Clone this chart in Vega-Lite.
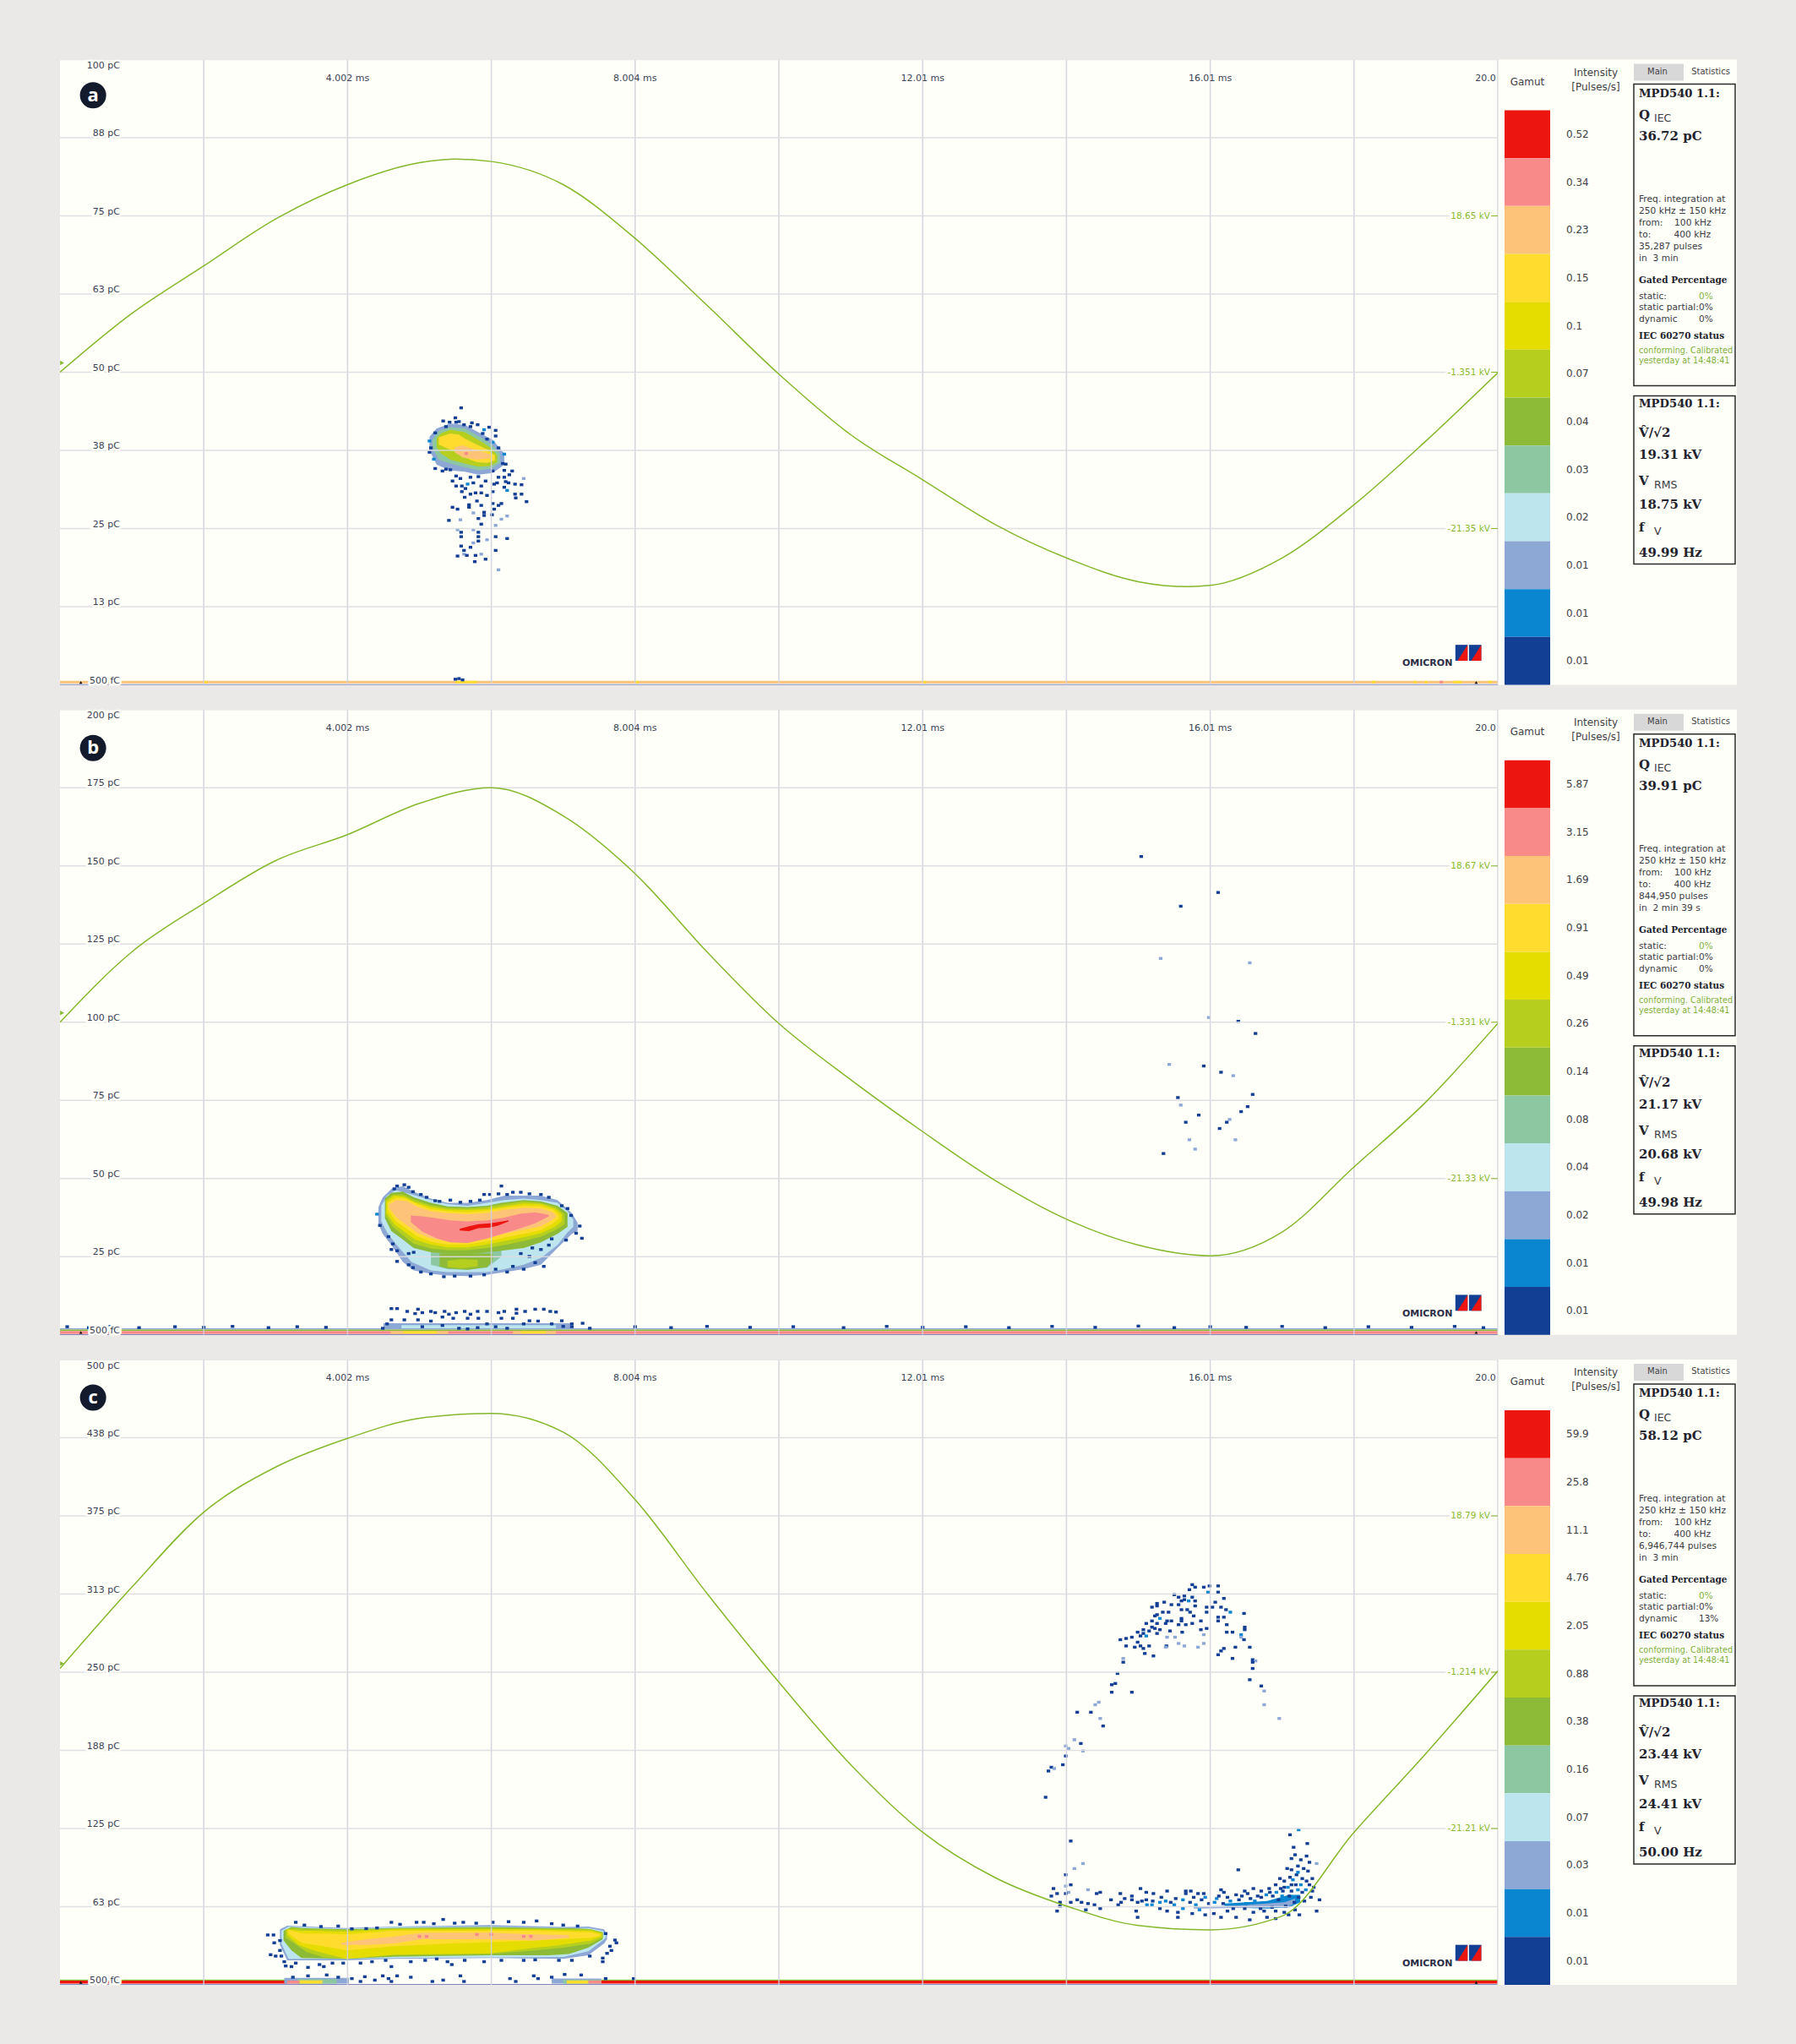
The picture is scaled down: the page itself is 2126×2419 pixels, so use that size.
{
"$schema":"https://vega.github.io/schema/vega-lite/v6.json",
"background":"#ebe8e8",
"padding":{"left":71,"top":70.5,"right":71,"bottom":70},
"config":{"view":{"fill":"#fffffa","stroke":null},"axis":{"disable":true},"legend":{"disable":true},"text":{"font":"DejaVu Sans"}},
"datasets":{
"plot":[
{"p":"a","s":10,"t":0,"t2":20,"q":0.25,"q2":0.65},{"p":"a","s":9,"t":2,"t2":2.05,"q":0.25,"q2":0.65},{"p":"a","s":9,"t":5.5,"t2":5.8,"q":0.25,"q2":0.65},{"p":"a","s":9,"t":8,"t2":8.05,"q":0.25,"q2":0.65},{"p":"a","s":9,"t":12,"t2":12.05,"q":0.25,"q2":0.65},{"p":"a","s":9,"t":18.25,"t2":18.3,"q":0.25,"q2":0.65},{"p":"a","s":9,"t":18.83,"t2":18.87,"q":0.25,"q2":0.65},{"p":"a","s":9,"t":18.98,"t2":19.02,"q":0.25,"q2":0.65},{"p":"a","s":11,"t":19.19,"t2":19.24,"q":0.25,"q2":0.65},{"p":"a","s":9,"t":19.38,"t2":19.5,"q":0.25,"q2":0.65},{"p":"a","s":9,"t":19.87,"t2":19.92,"q":0.25,"q2":0.65},
{"p":"b","s":3,"t":0,"t2":20,"q":1.7,"q2":2.1},{"p":"b","s":6,"t":0,"t2":20,"q":1.2,"q2":1.7},{"p":"b","s":11,"t":0,"t2":20,"q":0.3,"q2":1.2},{"p":"b","s":10,"t":4.6,"t2":5.4,"q":0.3,"q2":1.2},{"p":"b","s":9,"t":4.77,"t2":5.24,"q":0.5,"q2":1.2},{"p":"b","s":10,"t":6.3,"t2":6.9,"q":0.3,"q2":1.2},{"p":"b","s":9,"t":6.41,"t2":6.76,"q":0.5,"q2":1.2},{"p":"b","s":3,"t":4.5,"t2":7.1,"q":2.1,"q2":3.7},{"p":"b","s":4,"t":4.75,"t2":6.9,"q":2.1,"q2":3.1},
{"p":"c","s":6,"t":0,"t2":3.16,"q":3.4,"q2":4.3},{"p":"c","s":12,"t":0,"t2":3.16,"q":1,"q2":3.4},{"p":"c","s":6,"t":7.53,"t2":20,"q":3.4,"q2":4.3},{"p":"c","s":12,"t":7.53,"t2":20,"q":1,"q2":3.4},{"p":"c","s":3,"t":3.12,"t2":4.02,"q":1,"q2":5.5},{"p":"c","s":5,"t":3.3,"t2":3.85,"q":1,"q2":4.5},{"p":"c","s":9,"t":3.33,"t2":3.65,"q":1,"q2":3.6},{"p":"c","s":11,"t":3.16,"t2":3.33,"q":1,"q2":3.4},{"p":"c","s":3,"t":6.84,"t2":7.53,"q":1,"q2":5},{"p":"c","s":5,"t":7,"t2":7.53,"q":1,"q2":4.3},{"p":"c","s":9,"t":7.05,"t2":7.35,"q":1,"q2":3.5},{"p":"c","s":11,"t":7.35,"t2":7.53,"q":1,"q2":3.5},
{"p":"a","s":1,"t":19.41,"t2":19.58,"q":3.85,"q2":6.4},{"p":"a","s":1,"t":19.6,"t2":19.77,"q":3.85,"q2":6.4},{"p":"b","s":1,"t":19.41,"t2":19.58,"q":7.7,"q2":12.8},{"p":"b","s":1,"t":19.6,"t2":19.77,"q":7.7,"q2":12.8},{"p":"c","s":1,"t":19.41,"t2":19.58,"q":19.25,"q2":32},{"p":"c","s":1,"t":19.6,"t2":19.77,"q":19.25,"q2":32},
{"p":"a","a":"al1","b":12,"t":19.44,"q":3.85,"q2":3.85},{"p":"a","a":"al1","b":12,"t":19.58,"q":6.4,"q2":3.85},{"p":"a","a":"al2","b":12,"t":19.63,"q":3.85,"q2":3.85},{"p":"a","a":"al2","b":12,"t":19.77,"q":6.4,"q2":3.85},
{"p":"b","a":"bl1","b":12,"t":19.44,"q":7.7,"q2":7.7},{"p":"b","a":"bl1","b":12,"t":19.58,"q":12.8,"q2":7.7},{"p":"b","a":"bl2","b":12,"t":19.63,"q":7.7,"q2":7.7},{"p":"b","a":"bl2","b":12,"t":19.77,"q":12.8,"q2":7.7},
{"p":"c","a":"cl1","b":12,"t":19.44,"q":19.25,"q2":19.25},{"p":"c","a":"cl1","b":12,"t":19.58,"q":32,"q2":19.25},{"p":"c","a":"cl2","b":12,"t":19.63,"q":19.25,"q2":19.25},{"p":"c","a":"cl2","b":12,"t":19.77,"q":32,"q2":19.25},
{"p":"a","a":"a3","b":3,"t":5.14,"q":39.7,"q2":37.5},{"p":"a","a":"a3","b":3,"t":5.24,"q":41,"q2":35.2},{"p":"a","a":"a3","b":3,"t":5.43,"q":41.8,"q2":34.3},{"p":"a","a":"a3","b":3,"t":5.63,"q":41.6,"q2":34.1},{"p":"a","a":"a3","b":3,"t":5.82,"q":40.4,"q2":33.6},{"p":"a","a":"a3","b":3,"t":6.02,"q":39.2,"q2":33.9},{"p":"a","a":"a3","b":3,"t":6.18,"q":37,"q2":35.2},
{"p":"a","a":"a5","b":5,"t":5.18,"q":39.2,"q2":37.9},{"p":"a","a":"a5","b":5,"t":5.27,"q":40.6,"q2":36},{"p":"a","a":"a5","b":5,"t":5.43,"q":41.2,"q2":35.4},{"p":"a","a":"a5","b":5,"t":5.63,"q":41,"q2":34.8},{"p":"a","a":"a5","b":5,"t":5.82,"q":39.8,"q2":34.3},{"p":"a","a":"a5","b":5,"t":6,"q":38.5,"q2":34.6},{"p":"a","a":"a5","b":5,"t":6.12,"q":37,"q2":35.5},
{"p":"a","a":"a7","b":7,"t":5.24,"q":39.5,"q2":38},{"p":"a","a":"a7","b":7,"t":5.3,"q":40.2,"q2":37},{"p":"a","a":"a7","b":7,"t":5.43,"q":40.8,"q2":36},{"p":"a","a":"a7","b":7,"t":5.63,"q":40.4,"q2":35.4},{"p":"a","a":"a7","b":7,"t":5.82,"q":39.2,"q2":34.9},{"p":"a","a":"a7","b":7,"t":5.98,"q":38,"q2":35},{"p":"a","a":"a7","b":7,"t":6.08,"q":36.8,"q2":35.6},
{"p":"a","a":"a9","b":9,"t":5.27,"q":39.6,"q2":38.4},{"p":"a","a":"a9","b":9,"t":5.43,"q":40.2,"q2":37.6},{"p":"a","a":"a9","b":9,"t":5.55,"q":40,"q2":37.1},{"p":"a","a":"a9","b":9,"t":5.63,"q":39.4,"q2":36.4},{"p":"a","a":"a9","b":9,"t":5.8,"q":38.4,"q2":35.6},{"p":"a","a":"a9","b":9,"t":5.95,"q":37.6,"q2":35.5},{"p":"a","a":"a9","b":9,"t":6.05,"q":36.7,"q2":35.9},
{"p":"a","a":"a10","b":10,"t":5.49,"q":38,"q2":37.2},{"p":"a","a":"a10","b":10,"t":5.6,"q":38.3,"q2":36.4},{"p":"a","a":"a10","b":10,"t":5.8,"q":37.5,"q2":36},{"p":"a","a":"a10","b":10,"t":5.98,"q":36.9,"q2":36.2},
{"p":"b","a":"b3","b":3,"t":4.43,"q":40.9,"q2":35.4},{"p":"b","a":"b3","b":3,"t":4.49,"q":44,"q2":32.3},{"p":"b","a":"b3","b":3,"t":4.61,"q":46.7,"q2":28.7},{"p":"b","a":"b3","b":3,"t":4.77,"q":47.6,"q2":23.3},{"p":"b","a":"b3","b":3,"t":4.92,"q":45.8,"q2":20.6},{"p":"b","a":"b3","b":3,"t":5.16,"q":43.6,"q2":19.5},{"p":"b","a":"b3","b":3,"t":5.39,"q":42.2,"q2":19},{"p":"b","a":"b3","b":3,"t":5.67,"q":42.2,"q2":18.8},{"p":"b","a":"b3","b":3,"t":5.94,"q":43.1,"q2":19.2},{"p":"b","a":"b3","b":3,"t":6.18,"q":44.5,"q2":20.1},{"p":"b","a":"b3","b":3,"t":6.45,"q":44.5,"q2":21},{"p":"b","a":"b3","b":3,"t":6.69,"q":44.5,"q2":22.4},{"p":"b","a":"b3","b":3,"t":6.92,"q":43.1,"q2":27.8},{"p":"b","a":"b3","b":3,"t":7.12,"q":39,"q2":32.3},{"p":"b","a":"b3","b":3,"t":7.2,"q":35.9,"q2":33.2},
{"p":"b","a":"b4","b":4,"t":4.47,"q":41.3,"q2":36.3},{"p":"b","a":"b4","b":4,"t":4.55,"q":44.5,"q2":32.8},{"p":"b","a":"b4","b":4,"t":4.67,"q":46.3,"q2":29.1},{"p":"b","a":"b4","b":4,"t":4.89,"q":44.9,"q2":23.3},{"p":"b","a":"b4","b":4,"t":5.16,"q":43.1,"q2":20.6},{"p":"b","a":"b4","b":4,"t":5.39,"q":41.8,"q2":20.1},{"p":"b","a":"b4","b":4,"t":5.67,"q":41.3,"q2":20.1},{"p":"b","a":"b4","b":4,"t":5.94,"q":42.2,"q2":20.1},{"p":"b","a":"b4","b":4,"t":6.18,"q":43.1,"q2":21},{"p":"b","a":"b4","b":4,"t":6.45,"q":43.6,"q2":22.4},{"p":"b","a":"b4","b":4,"t":6.69,"q":43.1,"q2":24.6},{"p":"b","a":"b4","b":4,"t":6.92,"q":42.2,"q2":28.7},{"p":"b","a":"b4","b":4,"t":7.06,"q":39.5,"q2":32.8},{"p":"b","a":"b4","b":4,"t":7.14,"q":36.8,"q2":34.5},
{"p":"b","a":"bl5","b":5,"t":5.16,"q":26.9,"q2":22.4},{"p":"b","a":"bl5","b":5,"t":5.39,"q":26.9,"q2":21},{"p":"b","a":"bl5","b":5,"t":5.67,"q":26.9,"q2":20.8},{"p":"b","a":"bl5","b":5,"t":5.94,"q":26.9,"q2":21.5},{"p":"b","a":"bl5","b":5,"t":6.14,"q":27.8,"q2":25},
{"p":"b","a":"bl6","b":6,"t":5.28,"q":26,"q2":21.9},{"p":"b","a":"bl6","b":6,"t":5.39,"q":26,"q2":21.3},{"p":"b","a":"bl6","b":6,"t":5.67,"q":26,"q2":20.8},{"p":"b","a":"bl6","b":6,"t":5.94,"q":26,"q2":21.7},{"p":"b","a":"bl6","b":6,"t":6.02,"q":26,"q2":23.7},
{"p":"b","a":"bl7","b":7,"t":5.39,"q":23.7,"q2":21.7},{"p":"b","a":"bl7","b":7,"t":5.59,"q":24.2,"q2":21.3},{"p":"b","a":"bl7","b":7,"t":5.81,"q":24,"q2":21.9},
{"p":"b","a":"b6","b":6,"t":4.52,"q":43.6,"q2":37.3},{"p":"b","a":"b6","b":6,"t":4.61,"q":45.4,"q2":33.2},{"p":"b","a":"b6","b":6,"t":4.77,"q":45.8,"q2":30.5},{"p":"b","a":"b6","b":6,"t":4.92,"q":44,"q2":27.8},{"p":"b","a":"b6","b":6,"t":5.16,"q":42.2,"q2":26.4},{"p":"b","a":"b6","b":6,"t":5.39,"q":41.1,"q2":26},{"p":"b","a":"b6","b":6,"t":5.67,"q":40.9,"q2":25.8},{"p":"b","a":"b6","b":6,"t":5.94,"q":41.3,"q2":26.4},{"p":"b","a":"b6","b":6,"t":6.14,"q":42.2,"q2":26.9},{"p":"b","a":"b6","b":6,"t":6.45,"q":43.1,"q2":27.8},{"p":"b","a":"b6","b":6,"t":6.69,"q":42.7,"q2":29.6},{"p":"b","a":"b6","b":6,"t":6.92,"q":41.3,"q2":32.3},{"p":"b","a":"b6","b":6,"t":7.06,"q":39,"q2":34.5},
{"p":"b","a":"b7","b":7,"t":4.53,"q":43.1,"q2":38.2},{"p":"b","a":"b7","b":7,"t":4.63,"q":44.9,"q2":34.5},{"p":"b","a":"b7","b":7,"t":4.77,"q":44.9,"q2":31.9},{"p":"b","a":"b7","b":7,"t":4.92,"q":43.3,"q2":29.1},{"p":"b","a":"b7","b":7,"t":5.16,"q":41.5,"q2":27.6},{"p":"b","a":"b7","b":7,"t":5.39,"q":40.6,"q2":27.1},{"p":"b","a":"b7","b":7,"t":5.67,"q":40.4,"q2":27.1},{"p":"b","a":"b7","b":7,"t":5.94,"q":40.9,"q2":27.8},{"p":"b","a":"b7","b":7,"t":6.18,"q":41.8,"q2":28.7},{"p":"b","a":"b7","b":7,"t":6.45,"q":42.7,"q2":30},{"p":"b","a":"b7","b":7,"t":6.69,"q":42.2,"q2":31.4},{"p":"b","a":"b7","b":7,"t":6.9,"q":40.9,"q2":33.6},{"p":"b","a":"b7","b":7,"t":7.02,"q":38.6,"q2":35.4},
{"p":"b","a":"b8","b":8,"t":4.54,"q":42.7,"q2":39},{"p":"b","a":"b8","b":8,"t":4.65,"q":44.5,"q2":35.4},{"p":"b","a":"b8","b":8,"t":4.79,"q":44.2,"q2":33},{"p":"b","a":"b8","b":8,"t":4.94,"q":42.4,"q2":30.5},{"p":"b","a":"b8","b":8,"t":5.16,"q":40.9,"q2":28.9},{"p":"b","a":"b8","b":8,"t":5.39,"q":40.1,"q2":28},{"p":"b","a":"b8","b":8,"t":5.67,"q":39.9,"q2":28},{"p":"b","a":"b8","b":8,"t":5.94,"q":40.2,"q2":28.9},{"p":"b","a":"b8","b":8,"t":6.18,"q":41.1,"q2":30},{"p":"b","a":"b8","b":8,"t":6.45,"q":42,"q2":31.2},{"p":"b","a":"b8","b":8,"t":6.69,"q":41.8,"q2":32.5},{"p":"b","a":"b8","b":8,"t":6.88,"q":40.4,"q2":34.5},{"p":"b","a":"b8","b":8,"t":6.98,"q":38.6,"q2":36.3},
{"p":"b","a":"b9","b":9,"t":4.56,"q":42.2,"q2":40},{"p":"b","a":"b9","b":9,"t":4.67,"q":43.8,"q2":36.3},{"p":"b","a":"b9","b":9,"t":4.81,"q":43.6,"q2":34.1},{"p":"b","a":"b9","b":9,"t":4.96,"q":41.8,"q2":31.6},{"p":"b","a":"b9","b":9,"t":5.16,"q":40.2,"q2":29.8},{"p":"b","a":"b9","b":9,"t":5.39,"q":39.5,"q2":28.9},{"p":"b","a":"b9","b":9,"t":5.67,"q":39.2,"q2":28.9},{"p":"b","a":"b9","b":9,"t":5.94,"q":39.7,"q2":29.9},{"p":"b","a":"b9","b":9,"t":6.18,"q":40.6,"q2":31.1},{"p":"b","a":"b9","b":9,"t":6.45,"q":41.3,"q2":32.3},{"p":"b","a":"b9","b":9,"t":6.69,"q":41.1,"q2":33.5},{"p":"b","a":"b9","b":9,"t":6.86,"q":40,"q2":35.7},{"p":"b","a":"b9","b":9,"t":6.94,"q":38.4,"q2":37.3},
{"p":"b","a":"b10","b":10,"t":4.58,"q":41.8,"q2":40.6},{"p":"b","a":"b10","b":10,"t":4.68,"q":43.1,"q2":37.5},{"p":"b","a":"b10","b":10,"t":4.83,"q":42.7,"q2":35},{"p":"b","a":"b10","b":10,"t":4.98,"q":40.9,"q2":32.5},{"p":"b","a":"b10","b":10,"t":5.16,"q":39.5,"q2":30.9},{"p":"b","a":"b10","b":10,"t":5.39,"q":38.9,"q2":29.9},{"p":"b","a":"b10","b":10,"t":5.67,"q":38.6,"q2":29.9},{"p":"b","a":"b10","b":10,"t":5.94,"q":39,"q2":30.9},{"p":"b","a":"b10","b":10,"t":6.18,"q":40,"q2":32.3},{"p":"b","a":"b10","b":10,"t":6.45,"q":40.6,"q2":33.6},{"p":"b","a":"b10","b":10,"t":6.69,"q":40.4,"q2":34.7},{"p":"b","a":"b10","b":10,"t":6.84,"q":39.3,"q2":36.6},{"p":"b","a":"b10","b":10,"t":6.9,"q":38.2,"q2":37.7},
{"p":"b","a":"b11","b":11,"t":4.88,"q":38.2,"q2":36.1},{"p":"b","a":"b11","b":11,"t":5.04,"q":37.9,"q2":33},{"p":"b","a":"b11","b":11,"t":5.24,"q":37.3,"q2":30.9},{"p":"b","a":"b11","b":11,"t":5.43,"q":36.6,"q2":29.6},{"p":"b","a":"b11","b":11,"t":5.67,"q":36.3,"q2":29.4},{"p":"b","a":"b11","b":11,"t":5.94,"q":36.6,"q2":30.8},{"p":"b","a":"b11","b":11,"t":6.18,"q":37.5,"q2":32.5},{"p":"b","a":"b11","b":11,"t":6.41,"q":38.8,"q2":34.1},{"p":"b","a":"b11","b":11,"t":6.61,"q":39.2,"q2":35.7},{"p":"b","a":"b11","b":11,"t":6.8,"q":38.4,"q2":37.9},
{"p":"b","a":"b12","b":12,"t":5.56,"q":33.9,"q2":33.4},{"p":"b","a":"b12","b":12,"t":5.69,"q":34.7,"q2":33.2},{"p":"b","a":"b12","b":12,"t":5.82,"q":35.4,"q2":34.1},{"p":"b","a":"b12","b":12,"t":5.98,"q":35.7,"q2":34.3},{"p":"b","a":"b12","b":12,"t":6.1,"q":36.1,"q2":35},{"p":"b","a":"b12","b":12,"t":6.24,"q":36.6,"q2":36.3},
{"p":"c","a":"c3","b":3,"t":3.06,"q":44.4,"q2":32},{"p":"c","a":"c3","b":3,"t":3.16,"q":47.3,"q2":19.6},{"p":"c","a":"c3","b":3,"t":3.98,"q":45.5,"q2":19.6},{"p":"c","a":"c3","b":3,"t":4.65,"q":46.6,"q2":20.7},{"p":"c","a":"c3","b":3,"t":5.98,"q":47.8,"q2":21.4},{"p":"c","a":"c3","b":3,"t":7,"q":46.2,"q2":20.7},{"p":"c","a":"c3","b":3,"t":7.35,"q":46.6,"q2":23.7},{"p":"c","a":"c3","b":3,"t":7.57,"q":44.4,"q2":33.1},{"p":"c","a":"c3","b":3,"t":7.61,"q":39.9,"q2":36.5},
{"p":"c","a":"c4","b":4,"t":3.08,"q":43.3,"q2":33.1},{"p":"c","a":"c4","b":4,"t":3.18,"q":46.6,"q2":20.7},{"p":"c","a":"c4","b":4,"t":3.98,"q":44.8,"q2":20.7},{"p":"c","a":"c4","b":4,"t":4.65,"q":46.2,"q2":21.4},{"p":"c","a":"c4","b":4,"t":5.98,"q":46.6,"q2":21.9},{"p":"c","a":"c4","b":4,"t":7,"q":45.5,"q2":22.3},{"p":"c","a":"c4","b":4,"t":7.35,"q":45.5,"q2":26.8},{"p":"c","a":"c4","b":4,"t":7.55,"q":43.3,"q2":35.4},{"p":"c","a":"c4","b":4,"t":7.59,"q":39.9,"q2":37.6},
{"p":"c","a":"c6","b":6,"t":3.11,"q":43.3,"q2":35.4},{"p":"c","a":"c6","b":6,"t":3.22,"q":46.2,"q2":27.5},{"p":"c","a":"c6","b":6,"t":3.36,"q":45.5,"q2":21.4},{"p":"c","a":"c6","b":6,"t":3.98,"q":44.4,"q2":20.7},{"p":"c","a":"c6","b":6,"t":4.65,"q":45.5,"q2":22.5},{"p":"c","a":"c6","b":6,"t":5.98,"q":46.2,"q2":23.7},{"p":"c","a":"c6","b":6,"t":6.8,"q":45.5,"q2":23.7},{"p":"c","a":"c6","b":6,"t":7.08,"q":45.5,"q2":24.6},{"p":"c","a":"c6","b":6,"t":7.35,"q":44.8,"q2":29.7},{"p":"c","a":"c6","b":6,"t":7.55,"q":42.1,"q2":36.5},
{"p":"c","a":"c7","b":7,"t":3.14,"q":44.4,"q2":37.6},{"p":"c","a":"c7","b":7,"t":3.26,"q":45.5,"q2":33.1},{"p":"c","a":"c7","b":7,"t":3.43,"q":44.4,"q2":26.4},{"p":"c","a":"c7","b":7,"t":3.67,"q":44.4,"q2":21.9},{"p":"c","a":"c7","b":7,"t":3.98,"q":43.9,"q2":20.7},{"p":"c","a":"c7","b":7,"t":4.65,"q":45,"q2":23.7},{"p":"c","a":"c7","b":7,"t":5.98,"q":45.5,"q2":24.6},{"p":"c","a":"c7","b":7,"t":6.61,"q":44.8,"q2":27.5},{"p":"c","a":"c7","b":7,"t":7,"q":44.8,"q2":29.7},{"p":"c","a":"c7","b":7,"t":7.39,"q":44.4,"q2":33.1},{"p":"c","a":"c7","b":7,"t":7.55,"q":41.7,"q2":37.6},
{"p":"c","a":"c8","b":8,"t":3.16,"q":44.4,"q2":39.9},{"p":"c","a":"c8","b":8,"t":3.32,"q":43.3,"q2":32},{"p":"c","a":"c8","b":8,"t":3.53,"q":43.3,"q2":27.5},{"p":"c","a":"c8","b":8,"t":3.98,"q":42.6,"q2":20.7},{"p":"c","a":"c8","b":8,"t":4.65,"q":44.4,"q2":24.1},{"p":"c","a":"c8","b":8,"t":5.98,"q":44.4,"q2":25.2},{"p":"c","a":"c8","b":8,"t":6.61,"q":44.4,"q2":29.7},{"p":"c","a":"c8","b":8,"t":6.84,"q":43.9,"q2":30.9},{"p":"c","a":"c8","b":8,"t":7.39,"q":43.3,"q2":35.4},{"p":"c","a":"c8","b":8,"t":7.53,"q":41,"q2":38.7},
{"p":"c","a":"c9","b":9,"t":3.18,"q":43.9,"q2":41},{"p":"c","a":"c9","b":9,"t":3.36,"q":41,"q2":33.6},{"p":"c","a":"c9","b":9,"t":3.67,"q":41,"q2":30.9},{"p":"c","a":"c9","b":9,"t":3.98,"q":40.3,"q2":27.5},{"p":"c","a":"c9","b":9,"t":4.65,"q":43.3,"q2":30.9},{"p":"c","a":"c9","b":9,"t":5.43,"q":43.3,"q2":33.1},{"p":"c","a":"c9","b":9,"t":5.98,"q":43.3,"q2":34.2},{"p":"c","a":"c9","b":9,"t":6.61,"q":43.3,"q2":35.4},{"p":"c","a":"c9","b":9,"t":7.39,"q":42.1,"q2":37.6},{"p":"c","a":"c9","b":9,"t":7.51,"q":40.3,"q2":39.2},
{"p":"c","a":"c10","b":10,"t":3.91,"q":33.6,"q2":32},{"p":"c","a":"c10","b":10,"t":4.26,"q":36.5,"q2":32},{"p":"c","a":"c10","b":10,"t":4.65,"q":38.7,"q2":33.1},{"p":"c","a":"c10","b":10,"t":5.04,"q":41.7,"q2":36.5},{"p":"c","a":"c10","b":10,"t":5.98,"q":41.7,"q2":36.5},{"p":"c","a":"c10","b":10,"t":6.61,"q":40.3,"q2":35.4},{"p":"c","a":"c10","b":10,"t":7.08,"q":39.9,"q2":37.6},
{"p":"c","a":"cx2","b":2,"t":16.2,"q":65,"q2":62},{"p":"c","a":"cx2","b":2,"t":16.79,"q":67,"q2":61},{"p":"c","a":"cx2","b":2,"t":17.1,"q":72,"q2":62},{"p":"c","a":"cx2","b":2,"t":17.25,"q":72,"q2":66},
{"p":"c","a":"cx3","b":3,"t":15.77,"q":62.5,"q2":61},{"p":"c","a":"cx3","b":3,"t":16.4,"q":63.5,"q2":61.5},{"p":"c","a":"cx3","b":3,"t":17.03,"q":66,"q2":62},{"p":"c","a":"cx3","b":3,"t":17.18,"q":69,"q2":65},
{"p":"a","c":11,"t":5.65,"q":37},{"p":"a","c":1,"t":5.5,"q":0.9},{"p":"a","c":1,"t":5.55,"q":1},{"p":"a","c":1,"t":5.6,"q":0.8},
{"p":"a","c":1,"t":5.58,"q":44.3},{"p":"a","c":1,"t":5.5,"q":42.7},{"p":"a","c":1,"t":5.33,"q":42.2},{"p":"a","c":1,"t":5.42,"q":42},{"p":"a","c":1,"t":5.55,"q":42.1},{"p":"a","c":1,"t":5.62,"q":41.6},{"p":"a","c":1,"t":5.73,"q":41.9},{"p":"a","c":1,"t":5.81,"q":41.6},{"p":"a","c":1,"t":5.37,"q":41.3},{"p":"a","c":1,"t":5.51,"q":42},{"p":"a","c":1,"t":5.71,"q":41.3},{"p":"a","c":1,"t":5.88,"q":40.2},{"p":"a","c":2,"t":5.9,"q":40.8},{"p":"a","c":1,"t":5.97,"q":41.2},{"p":"a","c":1,"t":6.06,"q":40.7},{"p":"a","c":1,"t":6.06,"q":39.8},{"p":"a","c":1,"t":5.94,"q":39.3},{"p":"a","c":2,"t":6.02,"q":38.8},{"p":"a","c":1,"t":6.1,"q":37.9},{"p":"a","c":2,"t":6.18,"q":36.9},{"p":"a","c":1,"t":6.2,"q":35.3},{"p":"a","c":1,"t":6.16,"q":35.4},{"p":"a","c":1,"t":5.22,"q":34.6},{"p":"a","c":2,"t":5.2,"q":36.1},{"p":"a","c":1,"t":5.16,"q":37.9},{"p":"a","c":1,"t":5.14,"q":37.2},{"p":"a","c":2,"t":5.14,"q":39},{"p":"a","c":1,"t":5.22,"q":40.3},
{"p":"a","c":1,"t":6.29,"q":34.2},{"p":"a","c":1,"t":6.25,"q":33.6},{"p":"a","c":1,"t":6.18,"q":34.3},{"p":"a","c":1,"t":6.18,"q":33.2},{"p":"a","c":1,"t":6.1,"q":33.2},{"p":"a","c":1,"t":6.2,"q":32.5},{"p":"a","c":1,"t":6.02,"q":34.2},{"p":"a","c":1,"t":5.37,"q":34.5},{"p":"a","c":1,"t":5.43,"q":34.4},{"p":"a","c":1,"t":5.32,"q":34.2},{"p":"a","c":1,"t":5.51,"q":33.4},{"p":"a","c":1,"t":5.57,"q":33},{"p":"a","c":1,"t":5.71,"q":33.2},{"p":"a","c":1,"t":5.82,"q":33.3},{"p":"a","c":1,"t":5.46,"q":32.6},{"p":"a","c":1,"t":5.59,"q":31.8},{"p":"a","c":1,"t":5.51,"q":31.8},{"p":"a","c":2,"t":5.67,"q":32.1},{"p":"a","c":1,"t":5.75,"q":32.3},{"p":"a","c":1,"t":5.92,"q":32.6},{"p":"a","c":1,"t":6.04,"q":32.1},{"p":"a","c":1,"t":6.08,"q":32.3},{"p":"a","c":1,"t":6.18,"q":31.6},{"p":"a","c":1,"t":6.24,"q":32.3},{"p":"a","c":1,"t":6.33,"q":32.1},{"p":"a","c":3,"t":6.45,"q":33},{"p":"a","c":1,"t":6.42,"q":32},{"p":"a","c":1,"t":5.64,"q":31.4},{"p":"a","c":1,"t":5.86,"q":31.8},{"p":"a","c":1,"t":6.02,"q":30.9},{"p":"a","c":2,"t":6.22,"q":31.1},{"p":"a","c":1,"t":6.33,"q":30.5},{"p":"a","c":1,"t":6.42,"q":30.5},{"p":"a","c":1,"t":6.34,"q":29.9},{"p":"a","c":1,"t":6.49,"q":29.3},{"p":"a","c":1,"t":5.59,"q":30.9},{"p":"a","c":1,"t":5.71,"q":30.5},{"p":"a","c":1,"t":5.78,"q":30.7},{"p":"a","c":1,"t":5.86,"q":30.7},{"p":"a","c":1,"t":5.94,"q":30.3},{"p":"a","c":1,"t":5.63,"q":30},{"p":"a","c":1,"t":5.8,"q":29.4},{"p":"a","c":1,"t":5.69,"q":28.8},{"p":"a","c":1,"t":5.69,"q":28.4},{"p":"a","c":1,"t":5.86,"q":28.7},{"p":"a","c":1,"t":6.02,"q":29},{"p":"a","c":1,"t":6.14,"q":29},{"p":"a","c":1,"t":5.53,"q":28.1},{"p":"a","c":1,"t":5.46,"q":28.4},{"p":"a","c":1,"t":5.9,"q":27.6},{"p":"a","c":1,"t":6.04,"q":28.1},{"p":"a","c":1,"t":6.1,"q":28.7},{"p":"a","c":3,"t":5.75,"q":27.5},{"p":"a","c":1,"t":5.9,"q":27.1},{"p":"a","c":1,"t":6.01,"q":27.2},{"p":"a","c":3,"t":6.22,"q":27},{"p":"a","c":1,"t":5.82,"q":26.6},{"p":"a","c":1,"t":5.41,"q":26.3},{"p":"a","c":3,"t":5.57,"q":26.4},{"p":"a","c":3,"t":6.14,"q":26.5},{"p":"a","c":1,"t":5.86,"q":25.7},{"p":"a","c":3,"t":6.06,"q":25.5},{"p":"a","c":3,"t":5.53,"q":24.8},{"p":"a","c":1,"t":5.58,"q":24.4},{"p":"a","c":3,"t":5.75,"q":24.8},{"p":"a","c":1,"t":5.82,"q":24.4},{"p":"a","c":1,"t":5.82,"q":23.7},{"p":"a","c":1,"t":5.58,"q":23.7},{"p":"a","c":1,"t":6.06,"q":23.7},{"p":"a","c":1,"t":6.22,"q":23.4},{"p":"a","c":3,"t":5.94,"q":23.2},{"p":"a","c":1,"t":5.82,"q":23},{"p":"a","c":3,"t":5.75,"q":22.7},{"p":"a","c":1,"t":5.58,"q":22.2},{"p":"a","c":1,"t":5.71,"q":22},{"p":"a","c":1,"t":5.62,"q":21.5},{"p":"a","c":1,"t":6.06,"q":21.5},{"p":"a","c":3,"t":5.62,"q":20.9},{"p":"a","c":1,"t":5.66,"q":20.7},{"p":"a","c":1,"t":5.53,"q":20.6},{"p":"a","c":1,"t":5.78,"q":20.7},{"p":"a","c":3,"t":5.86,"q":20.9},{"p":"a","c":1,"t":5.92,"q":20.1},{"p":"a","c":1,"t":5.77,"q":19.7},{"p":"a","c":3,"t":6.1,"q":18.4},
{"p":"b","c":1,"t":4.79,"q":48},{"p":"b","c":1,"t":4.69,"q":47.6},{"p":"b","c":1,"t":4.65,"q":46.7},{"p":"b","c":1,"t":4.85,"q":47.2},{"p":"b","c":1,"t":4.91,"q":45.8},{"p":"b","c":1,"t":5.02,"q":44.9},{"p":"b","c":1,"t":5.1,"q":44},{"p":"b","c":1,"t":5.22,"q":42.9},{"p":"b","c":1,"t":5.28,"q":42.7},{"p":"b","c":1,"t":5.43,"q":43.1},{"p":"b","c":1,"t":5.57,"q":42.4},{"p":"b","c":1,"t":5.71,"q":42.7},{"p":"b","c":1,"t":5.84,"q":43.1},{"p":"b","c":1,"t":5.9,"q":44.9},{"p":"b","c":1,"t":5.98,"q":44.9},{"p":"b","c":1,"t":6.1,"q":45.1},{"p":"b","c":1,"t":6.14,"q":47.6},{"p":"b","c":1,"t":6.22,"q":44.9},{"p":"b","c":1,"t":6.3,"q":45.6},{"p":"b","c":1,"t":6.41,"q":45.6},{"p":"b","c":1,"t":6.53,"q":45.1},{"p":"b","c":1,"t":6.69,"q":44.9},{"p":"b","c":1,"t":6.8,"q":44},{"p":"b","c":1,"t":6.98,"q":41.3},{"p":"b","c":1,"t":7.06,"q":40.4},{"p":"b","c":1,"t":7.11,"q":38.2},{"p":"b","c":1,"t":7.23,"q":34.8},{"p":"b","c":1,"t":7.18,"q":32.5},{"p":"b","c":1,"t":7.26,"q":30.9},{"p":"b","c":1,"t":7.04,"q":30.3},{"p":"b","c":1,"t":6.84,"q":30.7},{"p":"b","c":1,"t":6.8,"q":28.7},{"p":"b","c":1,"t":6.69,"q":27.3},{"p":"b","c":1,"t":6.57,"q":27.8},{"p":"b","c":1,"t":6.41,"q":26},{"p":"b","c":1,"t":6.53,"q":25.1},{"p":"b","c":1,"t":6.61,"q":23.1},{"p":"b","c":1,"t":6.73,"q":21.9},{"p":"b","c":1,"t":6.45,"q":21},{"p":"b","c":1,"t":6.3,"q":21.9},{"p":"b","c":1,"t":6.22,"q":20.1},{"p":"b","c":1,"t":6.06,"q":21},{"p":"b","c":1,"t":5.9,"q":19.2},{"p":"b","c":1,"t":5.71,"q":18.8},{"p":"b","c":1,"t":5.49,"q":18.8},{"p":"b","c":1,"t":5.34,"q":18.6},{"p":"b","c":1,"t":5.16,"q":19.5},{"p":"b","c":1,"t":5.02,"q":20.1},{"p":"b","c":1,"t":4.91,"q":21.5},{"p":"b","c":1,"t":4.85,"q":22.4},{"p":"b","c":1,"t":4.69,"q":23.5},{"p":"b","c":1,"t":4.85,"q":26},{"p":"b","c":1,"t":4.92,"q":26.4},{"p":"b","c":1,"t":4.63,"q":29.1},{"p":"b","c":1,"t":4.57,"q":31.4},{"p":"b","c":1,"t":4.45,"q":35},{"p":"b","c":2,"t":4.41,"q":38.6},{"p":"b","c":1,"t":4.61,"q":27.3},{"p":"b","c":1,"t":4.69,"q":26.9},
{"p":"b","c":1,"t":4.61,"q":8.4},{"p":"b","c":1,"t":4.69,"q":8.4},{"p":"b","c":1,"t":4.83,"q":7.5},{"p":"b","c":1,"t":4.98,"q":8.2},{"p":"b","c":1,"t":5.04,"q":7.1},{"p":"b","c":1,"t":4.94,"q":6.8},{"p":"b","c":1,"t":5.16,"q":7.5},{"p":"b","c":1,"t":5.22,"q":7.1},{"p":"b","c":1,"t":5.35,"q":7.5},{"p":"b","c":1,"t":5.41,"q":6.6},{"p":"b","c":1,"t":5.51,"q":7.1},{"p":"b","c":1,"t":5.63,"q":7.5},{"p":"b","c":1,"t":5.71,"q":6.6},{"p":"b","c":1,"t":5.81,"q":7.5},{"p":"b","c":1,"t":5.94,"q":7.5},{"p":"b","c":1,"t":6.1,"q":7.1},{"p":"b","c":1,"t":6.18,"q":7.5},{"p":"b","c":1,"t":6.35,"q":8.2},{"p":"b","c":1,"t":6.35,"q":6.9},{"p":"b","c":1,"t":6.47,"q":7.5},{"p":"b","c":1,"t":6.61,"q":8.2},{"p":"b","c":1,"t":6.73,"q":8.2},{"p":"b","c":1,"t":6.82,"q":7.5},{"p":"b","c":1,"t":6.9,"q":7.3},{"p":"b","c":1,"t":4.61,"q":4.8},{"p":"b","c":1,"t":4.79,"q":4.8},{"p":"b","c":1,"t":4.98,"q":4.8},{"p":"b","c":1,"t":5.16,"q":4.4},{"p":"b","c":1,"t":5.32,"q":5.7},{"p":"b","c":1,"t":5.47,"q":5.3},{"p":"b","c":1,"t":5.67,"q":5.3},{"p":"b","c":1,"t":5.82,"q":5.3},{"p":"b","c":1,"t":5.94,"q":3.5},{"p":"b","c":1,"t":6.14,"q":5.3},{"p":"b","c":1,"t":6.3,"q":5.3},{"p":"b","c":1,"t":6.53,"q":4.5},{"p":"b","c":1,"t":6.65,"q":4.4},{"p":"b","c":1,"t":6.84,"q":3.5},{"p":"b","c":1,"t":6.98,"q":4.5},{"p":"b","c":1,"t":7.12,"q":3.5},{"p":"b","c":1,"t":7.27,"q":3.7},{"p":"b","c":1,"t":4.55,"q":3.5},{"p":"b","c":1,"t":4.49,"q":2.1},{"p":"b","c":1,"t":5.04,"q":2.6},{"p":"b","c":1,"t":5.32,"q":3},{"p":"b","c":1,"t":5.55,"q":2.1},{"p":"b","c":1,"t":5.67,"q":1.9},{"p":"b","c":1,"t":5.81,"q":2.3},{"p":"b","c":1,"t":6.06,"q":2.6},{"p":"b","c":1,"t":6.22,"q":2.1},{"p":"b","c":1,"t":6.45,"q":3.5},{"p":"b","c":1,"t":7,"q":2.7},{"p":"b","c":1,"t":7.12,"q":2.6},{"p":"b","c":1,"t":7.37,"q":2.1},
{"p":"b","c":1,"t":0.1,"q":2.6},{"p":"b","c":1,"t":0.4,"q":2.3},{"p":"b","c":1,"t":0.7,"q":2.7},{"p":"b","c":1,"t":1.1,"q":2.3},{"p":"b","c":1,"t":1.6,"q":2.6},{"p":"b","c":1,"t":2,"q":2.4},{"p":"b","c":1,"t":2.4,"q":2.7},{"p":"b","c":1,"t":2.9,"q":2.3},{"p":"b","c":1,"t":3.3,"q":2.6},{"p":"b","c":1,"t":3.7,"q":2.4},{"p":"b","c":1,"t":8,"q":2.6},{"p":"b","c":1,"t":8.5,"q":2.3},{"p":"b","c":1,"t":9,"q":2.7},{"p":"b","c":1,"t":9.6,"q":2.4},{"p":"b","c":1,"t":10.2,"q":2.6},{"p":"b","c":1,"t":10.9,"q":2.3},{"p":"b","c":1,"t":11.5,"q":2.7},{"p":"b","c":1,"t":12,"q":2.4},{"p":"b","c":1,"t":12.6,"q":2.6},{"p":"b","c":1,"t":13.2,"q":2.3},{"p":"b","c":1,"t":13.8,"q":2.7},{"p":"b","c":1,"t":14.4,"q":2.4},{"p":"b","c":1,"t":15,"q":2.8},{"p":"b","c":1,"t":15.5,"q":2.3},{"p":"b","c":1,"t":16,"q":2.6},{"p":"b","c":1,"t":16.5,"q":2.4},{"p":"b","c":1,"t":17,"q":2.7},{"p":"b","c":1,"t":17.6,"q":2.3},{"p":"b","c":1,"t":18.2,"q":2.6},{"p":"b","c":1,"t":18.8,"q":2.4},{"p":"b","c":1,"t":19.4,"q":2.7},{"p":"b","c":1,"t":19.8,"q":2.3},
{"p":"b","c":1,"t":15.04,"q":153},{"p":"b","c":1,"t":16.11,"q":141.5},{"p":"b","c":1,"t":15.59,"q":137.1},{"p":"b","c":3,"t":15.31,"q":120.4},{"p":"b","c":3,"t":16.55,"q":119},{"p":"b","c":3,"t":15.98,"q":101.5},{"p":"b","c":1,"t":16.39,"q":100.3},{"p":"b","c":1,"t":16.63,"q":96.4},{"p":"b","c":3,"t":15.43,"q":86.5},{"p":"b","c":1,"t":15.91,"q":86},{"p":"b","c":1,"t":16.15,"q":84},{"p":"b","c":3,"t":16.32,"q":82.9},{"p":"b","c":1,"t":15.55,"q":75.9},{"p":"b","c":1,"t":16.59,"q":76.9},{"p":"b","c":3,"t":15.59,"q":73.5},{"p":"b","c":1,"t":16.52,"q":73},{"p":"b","c":1,"t":16.43,"q":71.4},{"p":"b","c":1,"t":15.84,"q":70.3},{"p":"b","c":3,"t":16.27,"q":68.9},{"p":"b","c":1,"t":15.66,"q":68},{"p":"b","c":1,"t":16.23,"q":68},{"p":"b","c":1,"t":16.13,"q":66},{"p":"b","c":3,"t":15.71,"q":62.4},{"p":"b","c":3,"t":16.35,"q":62.4},{"p":"b","c":3,"t":15.79,"q":59.4},{"p":"b","c":1,"t":15.35,"q":58},
{"p":"c","c":11,"t":5,"q":38.7},{"p":"c","c":11,"t":5.1,"q":38.7},{"p":"c","c":11,"t":5.8,"q":40.3},{"p":"c","c":11,"t":6,"q":40.3},{"p":"c","c":11,"t":6.45,"q":38.7},{"p":"c","c":11,"t":6.55,"q":38.7},
{"p":"c","c":1,"t":2.89,"q":39.9},{"p":"c","c":1,"t":2.97,"q":39.9},{"p":"c","c":1,"t":2.98,"q":33.6},{"p":"c","c":1,"t":3.06,"q":35.4},{"p":"c","c":1,"t":2.93,"q":24.1},{"p":"c","c":1,"t":3,"q":23},{"p":"c","c":1,"t":3.06,"q":27.5},{"p":"c","c":1,"t":3.08,"q":23},{"p":"c","c":1,"t":3.12,"q":18.5},{"p":"c","c":1,"t":3.14,"q":15.1},{"p":"c","c":1,"t":3.22,"q":14.6},{"p":"c","c":1,"t":3.28,"q":50},{"p":"c","c":1,"t":3.4,"q":47.8},{"p":"c","c":1,"t":3.63,"q":46.6},{"p":"c","c":1,"t":3.87,"q":47},{"p":"c","c":1,"t":4.06,"q":44.8},{"p":"c","c":1,"t":4.26,"q":45},{"p":"c","c":1,"t":4.41,"q":45.5},{"p":"c","c":1,"t":4.61,"q":50},{"p":"c","c":1,"t":4.73,"q":48.4},{"p":"c","c":1,"t":4.96,"q":50},{"p":"c","c":1,"t":5.06,"q":50},{"p":"c","c":1,"t":5.2,"q":48.9},{"p":"c","c":1,"t":5.33,"q":52.3},{"p":"c","c":1,"t":5.49,"q":49.3},{"p":"c","c":1,"t":5.61,"q":50},{"p":"c","c":1,"t":5.79,"q":49.3},{"p":"c","c":1,"t":6.02,"q":50},{"p":"c","c":1,"t":6.24,"q":50.5},{"p":"c","c":1,"t":6.45,"q":50},{"p":"c","c":1,"t":6.63,"q":51.1},{"p":"c","c":1,"t":6.84,"q":48.9},{"p":"c","c":1,"t":7,"q":47.8},{"p":"c","c":1,"t":7.2,"q":47},{"p":"c","c":1,"t":7.59,"q":41},{"p":"c","c":1,"t":7.72,"q":35.8},{"p":"c","c":1,"t":7.74,"q":33.6},{"p":"c","c":1,"t":7.65,"q":30.9},{"p":"c","c":1,"t":7.61,"q":25.2},{"p":"c","c":1,"t":7.67,"q":27.5},{"p":"c","c":1,"t":7.55,"q":21.4},{"p":"c","c":1,"t":7.55,"q":18.5},{"p":"c","c":1,"t":7.37,"q":23},{"p":"c","c":1,"t":7.12,"q":19.6},{"p":"c","c":1,"t":6.94,"q":19.6},{"p":"c","c":1,"t":6.61,"q":20},{"p":"c","c":1,"t":6.45,"q":19.6},{"p":"c","c":1,"t":6.14,"q":19.6},{"p":"c","c":1,"t":5.9,"q":18.5},{"p":"c","c":1,"t":5.63,"q":19.6},{"p":"c","c":1,"t":5.39,"q":18.5},{"p":"c","c":1,"t":5.45,"q":16.2},{"p":"c","c":1,"t":5.24,"q":20.7},{"p":"c","c":1,"t":5.08,"q":19.6},{"p":"c","c":1,"t":4.88,"q":18.5},{"p":"c","c":1,"t":4.61,"q":14.6},{"p":"c","c":1,"t":4.53,"q":19.6},{"p":"c","c":1,"t":4.34,"q":18.5},{"p":"c","c":1,"t":4.18,"q":17.4},{"p":"c","c":1,"t":3.94,"q":17.4},{"p":"c","c":1,"t":3.79,"q":17.4},{"p":"c","c":1,"t":3.67,"q":14.6},{"p":"c","c":1,"t":3.61,"q":16.2},{"p":"c","c":1,"t":3.45,"q":14},{"p":"c","c":1,"t":3.28,"q":17.4},
{"p":"c","c":1,"t":3.24,"q":6.1},{"p":"c","c":1,"t":3.45,"q":7.2},{"p":"c","c":1,"t":3.71,"q":7.9},{"p":"c","c":1,"t":3.87,"q":6.1},{"p":"c","c":1,"t":4.06,"q":5},{"p":"c","c":1,"t":4.24,"q":6.5},{"p":"c","c":1,"t":4.38,"q":3.8},{"p":"c","c":1,"t":4.49,"q":7.2},{"p":"c","c":1,"t":4.57,"q":5},{"p":"c","c":1,"t":4.69,"q":7.2},{"p":"c","c":1,"t":4.88,"q":6.1},{"p":"c","c":1,"t":5.18,"q":2.7},{"p":"c","c":1,"t":5.33,"q":3.8},{"p":"c","c":1,"t":5.57,"q":7.2},{"p":"c","c":1,"t":5.62,"q":2.7},{"p":"c","c":1,"t":6.26,"q":5},{"p":"c","c":1,"t":6.34,"q":2.7},{"p":"c","c":1,"t":6.59,"q":7.2},{"p":"c","c":1,"t":6.65,"q":5},{"p":"c","c":1,"t":6.84,"q":6.1},{"p":"c","c":1,"t":7.02,"q":8.3},{"p":"c","c":1,"t":7.25,"q":7.9},{"p":"c","c":1,"t":7.59,"q":5},{"p":"c","c":1,"t":7.98,"q":5},{"p":"c","c":1,"t":4.18,"q":2.7},{"p":"c","c":1,"t":4.61,"q":2.7},
{"p":"c","c":1,"t":15.75,"q":320},{"p":"c","c":1,"t":15.99,"q":319},{"p":"c","c":1,"t":16.11,"q":319},{"p":"c","c":1,"t":15.79,"q":318},{"p":"c","c":1,"t":15.91,"q":318},{"p":"c","c":1,"t":15.71,"q":316},{"p":"c","c":2,"t":15.97,"q":314},{"p":"c","c":1,"t":16.11,"q":314},{"p":"c","c":1,"t":15.5,"q":312},{"p":"c","c":1,"t":15.64,"q":311},{"p":"c","c":1,"t":15.56,"q":310},{"p":"c","c":1,"t":15.75,"q":310},{"p":"c","c":1,"t":16.19,"q":309},{"p":"c","c":1,"t":15.6,"q":307},{"p":"c","c":2,"t":15.7,"q":307},{"p":"c","c":1,"t":15.79,"q":307},{"p":"c","c":1,"t":15.26,"q":305},{"p":"c","c":1,"t":15.36,"q":306},{"p":"c","c":1,"t":15.64,"q":308},{"p":"c","c":1,"t":16.07,"q":306},{"p":"c","c":1,"t":15.46,"q":304},{"p":"c","c":1,"t":15.56,"q":304},{"p":"c","c":1,"t":15.26,"q":303},{"p":"c","c":1,"t":15.19,"q":302},{"p":"c","c":1,"t":15.79,"q":303},{"p":"c","c":1,"t":15.95,"q":302},{"p":"c","c":1,"t":16.03,"q":302},{"p":"c","c":1,"t":16.15,"q":302},{"p":"c","c":1,"t":15.6,"q":300},{"p":"c","c":1,"t":15.68,"q":300},{"p":"c","c":1,"t":16.22,"q":300},{"p":"c","c":2,"t":16.28,"q":298},{"p":"c","c":1,"t":15.34,"q":298},{"p":"c","c":1,"t":15.42,"q":298},{"p":"c","c":1,"t":15.72,"q":298},{"p":"c","c":1,"t":15.77,"q":295},{"p":"c","c":1,"t":15.95,"q":298},{"p":"c","c":1,"t":15.26,"q":296},{"p":"c","c":1,"t":16.47,"q":297},{"p":"c","c":1,"t":16.11,"q":294},{"p":"c","c":1,"t":16.19,"q":294},{"p":"c","c":1,"t":15.23,"q":295},{"p":"c","c":1,"t":15.6,"q":293},{"p":"c","c":2,"t":15.3,"q":293},{"p":"c","c":1,"t":15.4,"q":291},{"p":"c","c":1,"t":15.46,"q":291},{"p":"c","c":1,"t":15.6,"q":291},{"p":"c","c":1,"t":15.87,"q":291},{"p":"c","c":1,"t":16.11,"q":291},{"p":"c","c":1,"t":15.11,"q":289},{"p":"c","c":1,"t":15.19,"q":291},{"p":"c","c":1,"t":15.26,"q":289},{"p":"c","c":1,"t":15.38,"q":289},{"p":"c","c":1,"t":15.56,"q":288},{"p":"c","c":1,"t":15.66,"q":288},{"p":"c","c":1,"t":15.75,"q":289},{"p":"c","c":1,"t":16.23,"q":288},{"p":"c","c":1,"t":15.19,"q":286},{"p":"c","c":1,"t":15.23,"q":285},{"p":"c","c":1,"t":16.48,"q":286},{"p":"c","c":1,"t":16.48,"q":284},{"p":"c","c":1,"t":15.3,"q":284},{"p":"c","c":1,"t":15.87,"q":284},{"p":"c","c":1,"t":15.95,"q":285},{"p":"c","c":1,"t":14.99,"q":282},{"p":"c","c":1,"t":15.07,"q":284},{"p":"c","c":1,"t":15.07,"q":281},{"p":"c","c":1,"t":15.15,"q":283},{"p":"c","c":1,"t":15.44,"q":283},{"p":"c","c":1,"t":15.61,"q":282},{"p":"c","c":1,"t":16.23,"q":282},{"p":"c","c":1,"t":16.31,"q":282},{"p":"c","c":2,"t":16.43,"q":280},{"p":"c","c":2,"t":15.11,"q":279},{"p":"c","c":1,"t":15.03,"q":279},{"p":"c","c":1,"t":15.26,"q":281},{"p":"c","c":1,"t":14.91,"q":278},{"p":"c","c":1,"t":14.83,"q":277},{"p":"c","c":1,"t":14.75,"q":276},{"p":"c","c":3,"t":15.4,"q":278},{"p":"c","c":3,"t":15.51,"q":278},{"p":"c","c":3,"t":15.91,"q":280},{"p":"c","c":3,"t":16.43,"q":278},{"p":"c","c":1,"t":16.47,"q":276},{"p":"c","c":3,"t":15.56,"q":273},{"p":"c","c":3,"t":15.91,"q":273},{"p":"c","c":1,"t":14.99,"q":274},{"p":"c","c":1,"t":14.83,"q":271},{"p":"c","c":1,"t":15.15,"q":271},{"p":"c","c":1,"t":15.39,"q":271},{"p":"c","c":1,"t":14.95,"q":270},{"p":"c","c":1,"t":15.03,"q":271},{"p":"c","c":1,"t":15.07,"q":269},{"p":"c","c":3,"t":15.38,"q":270},{"p":"c","c":3,"t":15.64,"q":271},{"p":"c","c":3,"t":15.83,"q":270},{"p":"c","c":1,"t":16.19,"q":269},{"p":"c","c":1,"t":16.15,"q":267},{"p":"c","c":1,"t":16.35,"q":270},{"p":"c","c":1,"t":16.55,"q":270},{"p":"c","c":1,"t":16.11,"q":264},{"p":"c","c":1,"t":15.09,"q":265},{"p":"c","c":1,"t":15.21,"q":263},{"p":"c","c":3,"t":14.79,"q":261},{"p":"c","c":1,"t":14.79,"q":258},{"p":"c","c":1,"t":16.59,"q":260},{"p":"c","c":3,"t":16.63,"q":259},{"p":"c","c":1,"t":16.59,"q":258},{"p":"c","c":1,"t":16.31,"q":261},{"p":"c","c":1,"t":16.59,"q":253},{"p":"c","c":1,"t":14.71,"q":249},{"p":"c","c":1,"t":16.55,"q":244},{"p":"c","c":1,"t":14.68,"q":241},{"p":"c","c":1,"t":14.63,"q":240},{"p":"c","c":1,"t":16.71,"q":239},{"p":"c","c":3,"t":16.75,"q":235},{"p":"c","c":1,"t":14.63,"q":234},{"p":"c","c":1,"t":14.91,"q":234},{"p":"c","c":3,"t":14.45,"q":226},{"p":"c","c":3,"t":14.4,"q":224},{"p":"c","c":3,"t":16.75,"q":224},{"p":"c","c":1,"t":14.15,"q":218},{"p":"c","c":1,"t":14.34,"q":218},{"p":"c","c":3,"t":14.47,"q":213},{"p":"c","c":3,"t":16.96,"q":213},{"p":"c","c":1,"t":14.51,"q":207},{"p":"c","c":3,"t":14.11,"q":196},{"p":"c","c":1,"t":14.2,"q":193},{"p":"c","c":3,"t":13.99,"q":191},{"p":"c","c":3,"t":14.03,"q":189},{"p":"c","c":3,"t":14.23,"q":187},{"p":"c","c":1,"t":13.99,"q":183},{"p":"c","c":1,"t":13.95,"q":176},{"p":"c","c":1,"t":13.79,"q":174},{"p":"c","c":3,"t":13.83,"q":173},{"p":"c","c":1,"t":13.75,"q":171},{"p":"c","c":1,"t":13.71,"q":150},
{"p":"c","c":2,"t":17.23,"q":124},{"p":"c","c":1,"t":17.11,"q":120},{"p":"c","c":1,"t":14.06,"q":115},{"p":"c","c":1,"t":17.35,"q":113},{"p":"c","c":1,"t":17.16,"q":110},{"p":"c","c":1,"t":17.18,"q":104},{"p":"c","c":1,"t":17.34,"q":103},{"p":"c","c":1,"t":17.26,"q":100},{"p":"c","c":1,"t":17.13,"q":101},{"p":"c","c":1,"t":17.38,"q":98},{"p":"c","c":3,"t":17.48,"q":97},{"p":"c","c":3,"t":14.23,"q":97},{"p":"c","c":1,"t":17.22,"q":95},{"p":"c","c":1,"t":17.07,"q":93},{"p":"c","c":3,"t":14.11,"q":93},{"p":"c","c":1,"t":16.39,"q":92},{"p":"c","c":1,"t":17.13,"q":92},{"p":"c","c":1,"t":17.36,"q":91},{"p":"c","c":1,"t":16.97,"q":85},{"p":"c","c":1,"t":17.11,"q":86},{"p":"c","c":1,"t":17.2,"q":88},{"p":"c","c":1,"t":17.28,"q":85},{"p":"c","c":1,"t":13.99,"q":88},{"p":"c","c":1,"t":17.42,"q":85},{"p":"c","c":1,"t":16.91,"q":80},{"p":"c","c":1,"t":17.03,"q":78},{"p":"c","c":1,"t":17.13,"q":80},{"p":"c","c":1,"t":17.34,"q":83},{"p":"c","c":1,"t":14.06,"q":80},{"p":"c","c":1,"t":13.82,"q":77},{"p":"c","c":3,"t":13.99,"q":79},{"p":"c","c":1,"t":15.03,"q":77},{"p":"c","c":3,"t":14.3,"q":76},{"p":"c","c":1,"t":15.66,"q":75},{"p":"c","c":1,"t":15.73,"q":75},{"p":"c","c":1,"t":16.15,"q":76},{"p":"c","c":1,"t":15.4,"q":75},{"p":"c","c":1,"t":15.11,"q":74},{"p":"c","c":3,"t":14.03,"q":74},{"p":"c","c":1,"t":13.87,"q":73},{"p":"c","c":1,"t":13.79,"q":71},{"p":"c","c":1,"t":13.99,"q":73},{"p":"c","c":1,"t":14.42,"q":73},{"p":"c","c":1,"t":14.47,"q":74},{"p":"c","c":1,"t":14.75,"q":73},{"p":"c","c":1,"t":14.91,"q":71},{"p":"c","c":1,"t":15.21,"q":73},{"p":"c","c":1,"t":15.32,"q":70},{"p":"c","c":1,"t":15.52,"q":69},{"p":"c","c":1,"t":15.66,"q":73},{"p":"c","c":1,"t":15.83,"q":73},{"p":"c","c":1,"t":15.91,"q":73},{"p":"c","c":1,"t":16.19,"q":74},{"p":"c","c":1,"t":16.36,"q":72},{"p":"c","c":1,"t":16.48,"q":75},{"p":"c","c":1,"t":16.6,"q":77},{"p":"c","c":1,"t":16.71,"q":75},{"p":"c","c":1,"t":16.83,"q":74},{"p":"c","c":1,"t":17.01,"q":75},{"p":"c","c":2,"t":17.22,"q":76},{"p":"c","c":1,"t":17.42,"q":75},{"p":"c","c":1,"t":17.52,"q":68},{"p":"c","c":1,"t":13.91,"q":66},{"p":"c","c":1,"t":14.06,"q":66},{"p":"c","c":1,"t":14.15,"q":68},{"p":"c","c":1,"t":14.21,"q":66},{"p":"c","c":1,"t":14.62,"q":68},{"p":"c","c":1,"t":14.81,"q":69},{"p":"c","c":1,"t":14.91,"q":68},{"p":"c","c":1,"t":14.99,"q":66},{"p":"c","c":1,"t":15.11,"q":68},{"p":"c","c":2,"t":15.38,"q":67},{"p":"c","c":2,"t":15.62,"q":68},{"p":"c","c":1,"t":15.77,"q":70},{"p":"c","c":2,"t":15.93,"q":70},{"p":"c","c":2,"t":16.09,"q":69},{"p":"c","c":1,"t":16.24,"q":70},{"p":"c","c":1,"t":16.4,"q":68},{"p":"c","c":1,"t":16.56,"q":69},{"p":"c","c":1,"t":16.71,"q":70},{"p":"c","c":1,"t":16.87,"q":71},{"p":"c","c":1,"t":14.3,"q":65},{"p":"c","c":1,"t":14.39,"q":64},{"p":"c","c":1,"t":14.47,"q":61},{"p":"c","c":1,"t":14.72,"q":64},{"p":"c","c":1,"t":13.91,"q":63},{"p":"c","c":1,"t":14.27,"q":60},{"p":"c","c":1,"t":13.87,"q":59},{"p":"c","c":1,"t":14.76,"q":66},{"p":"c","c":1,"t":14.97,"q":59},{"p":"c","c":1,"t":14.99,"q":54},{"p":"c","c":2,"t":15.19,"q":64},{"p":"c","c":1,"t":15.3,"q":61},{"p":"c","c":1,"t":15.4,"q":59},{"p":"c","c":1,"t":15.55,"q":54},{"p":"c","c":1,"t":15.55,"q":58},{"p":"c","c":1,"t":15.75,"q":57},{"p":"c","c":1,"t":15.93,"q":56},{"p":"c","c":1,"t":16.15,"q":54},{"p":"c","c":1,"t":16.36,"q":54},{"p":"c","c":1,"t":16.55,"q":52},{"p":"c","c":1,"t":16.79,"q":54},{"p":"c","c":1,"t":16.91,"q":53},{"p":"c","c":1,"t":17.09,"q":56},{"p":"c","c":1,"t":17.24,"q":56},{"p":"c","c":1,"t":17.48,"q":59},{"p":"c","c":1,"t":16.05,"q":57},{"p":"c","c":1,"t":16.6,"q":58},{"p":"c","c":1,"t":16.75,"q":59},{"p":"c","c":1,"t":17.03,"q":58},{"p":"c","c":1,"t":17.18,"q":60},{"p":"c","c":2,"t":15.62,"q":61},{"p":"c","c":2,"t":15.85,"q":60},{"p":"c","c":1,"t":16.24,"q":59},{"p":"c","c":1,"t":16.48,"q":61},{"p":"c","c":1,"t":16.91,"q":59},
{"p":"c","c":1,"t":15.72,"q":66},{"p":"c","c":2,"t":15.8,"q":64},{"p":"c","c":1,"t":15.88,"q":68},{"p":"c","c":1,"t":15.98,"q":65},{"p":"c","c":2,"t":16.06,"q":66},{"p":"c","c":1,"t":16.12,"q":71},{"p":"c","c":1,"t":16.18,"q":65},{"p":"c","c":2,"t":16.28,"q":67},{"p":"c","c":1,"t":16.32,"q":61},{"p":"c","c":1,"t":16.44,"q":71},{"p":"c","c":2,"t":16.5,"q":65},{"p":"c","c":1,"t":16.52,"q":73},{"p":"c","c":2,"t":16.62,"q":67},{"p":"c","c":1,"t":16.66,"q":71},{"p":"c","c":1,"t":16.7,"q":61},{"p":"c","c":2,"t":16.78,"q":72},{"p":"c","c":1,"t":16.82,"q":77},{"p":"c","c":1,"t":16.86,"q":62},{"p":"c","c":2,"t":16.92,"q":74},{"p":"c","c":1,"t":16.95,"q":68},{"p":"c","c":1,"t":16.98,"q":77},{"p":"c","c":2,"t":17,"q":71},{"p":"c","c":1,"t":17.03,"q":83},{"p":"c","c":1,"t":17.05,"q":63},{"p":"c","c":2,"t":17.08,"q":78},{"p":"c","c":1,"t":17.1,"q":71},{"p":"c","c":1,"t":17.13,"q":75},{"p":"c","c":2,"t":17.15,"q":84},{"p":"c","c":1,"t":17.17,"q":66},{"p":"c","c":1,"t":17.19,"q":80},{"p":"c","c":2,"t":17.22,"q":90},{"p":"c","c":1,"t":17.23,"q":70},{"p":"c","c":2,"t":17.26,"q":80},{"p":"c","c":1,"t":17.28,"q":74},{"p":"c","c":1,"t":17.3,"q":93},{"p":"c","c":1,"t":17.31,"q":67},{"p":"c","c":2,"t":17.33,"q":76},{"p":"c","c":1,"t":17.38,"q":80},{"p":"c","c":1,"t":17.4,"q":70},{"p":"c","c":1,"t":17.44,"q":78},{"p":"c","c":2,"t":15.5,"q":64},{"p":"c","c":1,"t":15.45,"q":66},{"p":"c","c":2,"t":15.3,"q":66},{"p":"c","c":1,"t":15.2,"q":67},{"p":"c","c":1,"t":15.05,"q":67},{"p":"c","c":2,"t":15.12,"q":64},
{"p":"a","base":1,"q":0},{"p":"b","base":1,"q":0},{"p":"c","base":1,"q":0},
{"p":"a","v":1,"t":2},{"p":"a","v":1,"t":4},{"p":"a","v":1,"t":6},{"p":"a","v":1,"t":8},{"p":"a","v":1,"t":10},{"p":"a","v":1,"t":12},{"p":"a","v":1,"t":14},{"p":"a","v":1,"t":16},{"p":"a","v":1,"t":18},{"p":"a","v":1,"t":20},
{"p":"b","v":1,"t":2},{"p":"b","v":1,"t":4},{"p":"b","v":1,"t":6},{"p":"b","v":1,"t":8},{"p":"b","v":1,"t":10},{"p":"b","v":1,"t":12},{"p":"b","v":1,"t":14},{"p":"b","v":1,"t":16},{"p":"b","v":1,"t":18},{"p":"b","v":1,"t":20},
{"p":"c","v":1,"t":2},{"p":"c","v":1,"t":4},{"p":"c","v":1,"t":6},{"p":"c","v":1,"t":8},{"p":"c","v":1,"t":10},{"p":"c","v":1,"t":12},{"p":"c","v":1,"t":14},{"p":"c","v":1,"t":16},{"p":"c","v":1,"t":18},{"p":"c","v":1,"t":20},
{"p":"a","h":1,"q":100},{"p":"a","h":1,"q":87.5,"l":"88 pC"},{"p":"a","h":1,"q":75,"l":"75 pC"},{"p":"a","h":1,"q":62.5,"l":"63 pC"},{"p":"a","h":1,"q":50,"l":"50 pC"},{"p":"a","h":1,"q":37.5,"l":"38 pC"},{"p":"a","h":1,"q":25,"l":"25 pC"},{"p":"a","h":1,"q":12.5,"l":"13 pC"},{"p":"a","l":"100 pC","q":98.3},{"p":"a","l":"500 fC","q":0},
{"p":"b","h":1,"q":200},{"p":"b","h":1,"q":175,"l":"175 pC"},{"p":"b","h":1,"q":150,"l":"150 pC"},{"p":"b","h":1,"q":125,"l":"125 pC"},{"p":"b","h":1,"q":100,"l":"100 pC"},{"p":"b","h":1,"q":75,"l":"75 pC"},{"p":"b","h":1,"q":50,"l":"50 pC"},{"p":"b","h":1,"q":25,"l":"25 pC"},{"p":"b","l":"200 pC","q":196.6},{"p":"b","l":"500 fC","q":0},
{"p":"c","h":1,"q":500},{"p":"c","h":1,"q":437.5,"l":"438 pC"},{"p":"c","h":1,"q":375,"l":"375 pC"},{"p":"c","h":1,"q":312.5,"l":"313 pC"},{"p":"c","h":1,"q":250,"l":"250 pC"},{"p":"c","h":1,"q":187.5,"l":"188 pC"},{"p":"c","h":1,"q":125,"l":"125 pC"},{"p":"c","h":1,"q":62.5,"l":"63 pC"},{"p":"c","l":"500 pC","q":491.5},{"p":"c","l":"500 fC","q":0},
{"p":"a","z":1,"t":0,"q":50},{"p":"a","z":1,"t":1,"q":59.4},{"p":"a","z":1,"t":2,"q":67},{"p":"a","z":1,"t":3,"q":74.5},{"p":"a","z":1,"t":4,"q":80},{"p":"a","z":1,"t":5,"q":83.5},{"p":"a","z":1,"t":5.5,"q":84.1},{"p":"a","z":1,"t":6,"q":83.7},{"p":"a","z":1,"t":7,"q":80},{"p":"a","z":1,"t":8,"q":71.4},{"p":"a","z":1,"t":9,"q":60.7},{"p":"a","z":1,"t":10,"q":49.7},{"p":"a","z":1,"t":11,"q":40},{"p":"a","z":1,"t":12,"q":32.8},{"p":"a","z":1,"t":13,"q":25.7},{"p":"a","z":1,"t":14,"q":20.3},{"p":"a","z":1,"t":15,"q":16.5},{"p":"a","z":1,"t":15.7,"q":15.7},{"p":"a","z":1,"t":16,"q":15.9},{"p":"a","z":1,"t":17,"q":20.3},{"p":"a","z":1,"t":18,"q":28.8},{"p":"a","z":1,"t":19,"q":39},{"p":"a","z":1,"t":20,"q":49.9},
{"p":"b","z":1,"t":0,"q":100},{"p":"b","z":1,"t":1,"q":122.5},{"p":"b","z":1,"t":2,"q":138},{"p":"b","z":1,"t":3,"q":151.7},{"p":"b","z":1,"t":4,"q":160},{"p":"b","z":1,"t":5,"q":170},{"p":"b","z":1,"t":6,"q":175},{"p":"b","z":1,"t":7,"q":166},{"p":"b","z":1,"t":8,"q":147.5},{"p":"b","z":1,"t":9,"q":122.5},{"p":"b","z":1,"t":10,"q":99.6},{"p":"b","z":1,"t":11,"q":81.6},{"p":"b","z":1,"t":12,"q":65},{"p":"b","z":1,"t":13,"q":49.5},{"p":"b","z":1,"t":14,"q":37},{"p":"b","z":1,"t":15,"q":28.7},{"p":"b","z":1,"t":16,"q":25.3},{"p":"b","z":1,"t":17,"q":32.9},{"p":"b","z":1,"t":18,"q":53.7},{"p":"b","z":1,"t":19,"q":74.5},{"p":"b","z":1,"t":20,"q":99.6},
{"p":"c","z":1,"t":0,"q":253},{"p":"c","z":1,"t":1,"q":318},{"p":"c","z":1,"t":2,"q":378},{"p":"c","z":1,"t":3,"q":414},{"p":"c","z":1,"t":4,"q":437},{"p":"c","z":1,"t":5,"q":453},{"p":"c","z":1,"t":6,"q":457},{"p":"c","z":1,"t":7,"q":442},{"p":"c","z":1,"t":8,"q":388},{"p":"c","z":1,"t":9,"q":313},{"p":"c","z":1,"t":10,"q":242},{"p":"c","z":1,"t":11,"q":176},{"p":"c","z":1,"t":12,"q":122},{"p":"c","z":1,"t":13,"q":86},{"p":"c","z":1,"t":14,"q":63},{"p":"c","z":1,"t":15,"q":47.5},{"p":"c","z":1,"t":16,"q":44},{"p":"c","z":1,"t":17,"q":55},{"p":"c","z":1,"t":18,"q":122},{"p":"c","z":1,"t":19,"q":185},{"p":"c","z":1,"t":20,"q":251},
{"p":"a","m":1,"t":0.03,"q":51.5},{"p":"b","m":1,"t":0.03,"q":103},{"p":"c","m":1,"t":0.03,"q":257},
{"p":"a","tr":1,"t":0.29,"q":0.4},{"p":"a","tr":1,"t":19.7,"q":0.4},{"p":"b","tr":1,"t":0.29,"q":0.8},{"p":"b","tr":1,"t":19.7,"q":0.8},{"p":"c","tr":1,"t":0.29,"q":2},{"p":"c","tr":1,"t":19.7,"q":2},
{"p":"a","xl":"4.002 ms","t":4},{"p":"a","xl":"8.004 ms","t":8},{"p":"a","xl":"12.01 ms","t":12},{"p":"a","xl":"16.01 ms","t":16},{"p":"a","xl":"20.0","t":19.83},
{"p":"b","xl":"4.002 ms","t":4},{"p":"b","xl":"8.004 ms","t":8},{"p":"b","xl":"12.01 ms","t":12},{"p":"b","xl":"16.01 ms","t":16},{"p":"b","xl":"20.0","t":19.83},
{"p":"c","xl":"4.002 ms","t":4},{"p":"c","xl":"8.004 ms","t":8},{"p":"c","xl":"12.01 ms","t":12},{"p":"c","xl":"16.01 ms","t":16},{"p":"c","xl":"20.0","t":19.83},
{"p":"a","g":"18.65 kV","q":75},{"p":"a","g":"-1.351 kV","q":50},{"p":"a","g":"-21.35 kV","q":25},
{"p":"b","g":"18.67 kV","q":150},{"p":"b","g":"-1.331 kV","q":100},{"p":"b","g":"-21.33 kV","q":50},
{"p":"c","g":"18.79 kV","q":375},{"p":"c","g":"-1.214 kV","q":250},{"p":"c","g":"-21.21 kV","q":125},
{"p":"a","o":"OMICRON","t":19.37,"q":3.4},{"p":"b","o":"OMICRON","t":19.37,"q":6.8},{"p":"c","o":"OMICRON","t":19.37,"q":17},
{"p":"a","badge":"a","t":0.46,"q":94.3},{"p":"b","badge":"b","t":0.46,"q":187.7},{"p":"c","badge":"c","t":0.46,"q":469.6}
],
"side":[
{"ps":["a","b","c"],"k":"tab","y":5,"y2":25},
{"ps":["a","b","c"],"k":"ctr","col":34,"y":26,"s":"Gamut"},{"ps":["a","b","c"],"k":"ctr","col":115,"y":15,"s":"Intensity"},{"ps":["a","b","c"],"k":"ctr","col":115,"y":32,"s":"[Pulses/s]"},{"ps":["a","b","c"],"k":"tabt","col":188,"y":14,"s":"Main"},{"ps":["a","b","c"],"k":"tabt","col":251,"y":14,"s":"Statistics"},
{"ps":["a"],"b":12,"y":60,"y2":116.7,"m":88.3,"s":"0.52"},{"ps":["a"],"b":11,"y":116.7,"y2":173.3,"m":145,"s":"0.34"},{"ps":["a"],"b":10,"y":173.3,"y2":230,"m":201.7,"s":"0.23"},{"ps":["a"],"b":9,"y":230,"y2":286.7,"m":258.3,"s":"0.15"},{"ps":["a"],"b":8,"y":286.7,"y2":343.3,"m":315,"s":"0.1"},{"ps":["a"],"b":7,"y":343.3,"y2":400,"m":371.7,"s":"0.07"},{"ps":["a"],"b":6,"y":400,"y2":456.7,"m":428.3,"s":"0.04"},{"ps":["a"],"b":5,"y":456.7,"y2":513.3,"m":485,"s":"0.03"},{"ps":["a"],"b":4,"y":513.3,"y2":570,"m":541.7,"s":"0.02"},{"ps":["a"],"b":3,"y":570,"y2":626.7,"m":598.3,"s":"0.01"},{"ps":["a"],"b":2,"y":626.7,"y2":683.3,"m":655,"s":"0.01"},{"ps":["a"],"b":1,"y":683.3,"y2":740,"m":711.7,"s":"0.01"},
{"ps":["b"],"b":12,"y":60,"y2":116.7,"m":88.3,"s":"5.87"},{"ps":["b"],"b":11,"y":116.7,"y2":173.3,"m":145,"s":"3.15"},{"ps":["b"],"b":10,"y":173.3,"y2":230,"m":201.7,"s":"1.69"},{"ps":["b"],"b":9,"y":230,"y2":286.7,"m":258.3,"s":"0.91"},{"ps":["b"],"b":8,"y":286.7,"y2":343.3,"m":315,"s":"0.49"},{"ps":["b"],"b":7,"y":343.3,"y2":400,"m":371.7,"s":"0.26"},{"ps":["b"],"b":6,"y":400,"y2":456.7,"m":428.3,"s":"0.14"},{"ps":["b"],"b":5,"y":456.7,"y2":513.3,"m":485,"s":"0.08"},{"ps":["b"],"b":4,"y":513.3,"y2":570,"m":541.7,"s":"0.04"},{"ps":["b"],"b":3,"y":570,"y2":626.7,"m":598.3,"s":"0.02"},{"ps":["b"],"b":2,"y":626.7,"y2":683.3,"m":655,"s":"0.01"},{"ps":["b"],"b":1,"y":683.3,"y2":740,"m":711.7,"s":"0.01"},
{"ps":["c"],"b":12,"y":60,"y2":116.7,"m":88.3,"s":"59.9"},{"ps":["c"],"b":11,"y":116.7,"y2":173.3,"m":145,"s":"25.8"},{"ps":["c"],"b":10,"y":173.3,"y2":230,"m":201.7,"s":"11.1"},{"ps":["c"],"b":9,"y":230,"y2":286.7,"m":258.3,"s":"4.76"},{"ps":["c"],"b":8,"y":286.7,"y2":343.3,"m":315,"s":"2.05"},{"ps":["c"],"b":7,"y":343.3,"y2":400,"m":371.7,"s":"0.88"},{"ps":["c"],"b":6,"y":400,"y2":456.7,"m":428.3,"s":"0.38"},{"ps":["c"],"b":5,"y":456.7,"y2":513.3,"m":485,"s":"0.16"},{"ps":["c"],"b":4,"y":513.3,"y2":570,"m":541.7,"s":"0.07"},{"ps":["c"],"b":3,"y":570,"y2":626.7,"m":598.3,"s":"0.03"},{"ps":["c"],"b":2,"y":626.7,"y2":683.3,"m":655,"s":"0.01"},{"ps":["c"],"b":1,"y":683.3,"y2":740,"m":711.7,"s":"0.01"},
{"ps":["a","b","c"],"k":"box","y":29,"y2":386},{"ps":["a","b","c"],"k":"box","y":398,"y2":597},
{"ps":["a","b","c"],"k":"title","y":40,"s":"MPD540 1.1:"},{"ps":["a","b","c"],"k":"head","y":65,"s":"Q"},{"ps":["a","b","c"],"k":"sub","y":69,"s":"IEC"},
{"ps":["a"],"k":"head","y":90,"s":"36.72 pC"},{"ps":["b"],"k":"head","y":90,"s":"39.91 pC"},{"ps":["c"],"k":"head","y":90,"s":"58.12 pC"},
{"ps":["a","b","c"],"k":"note","y":165,"s":"Freq. integration at"},{"ps":["a","b","c"],"k":"note","y":179,"s":"250 kHz ± 150 kHz"},{"ps":["a","b","c"],"k":"note","y":193,"s":"from:\u00a0\u00a0\u00a0\u00a0100 kHz"},{"ps":["a","b","c"],"k":"note","y":207,"s":"to:\u00a0\u00a0\u00a0\u00a0\u00a0\u00a0\u00a0\u00a0400 kHz"},
{"ps":["a"],"k":"note","y":221,"s":"35,287 pulses"},{"ps":["b"],"k":"note","y":221,"s":"844,950 pulses"},{"ps":["c"],"k":"note","y":221,"s":"6,946,744 pulses"},
{"ps":["a"],"k":"note","y":235,"s":"in\u00a0\u00a03 min"},{"ps":["b"],"k":"note","y":235,"s":"in\u00a0\u00a02 min 39 s"},{"ps":["c"],"k":"note","y":235,"s":"in\u00a0\u00a03 min"},
{"ps":["a","b","c"],"k":"strong","y":261,"s":"Gated Percentage"},{"ps":["a","b","c"],"k":"note","y":280,"s":"static:"},{"ps":["a","b","c"],"k":"note","y":293,"s":"static partial:"},{"ps":["a","b","c"],"k":"note","y":307,"s":"dynamic"},
{"ps":["a","b","c"],"k":"gval","y":280,"s":"0%"},{"ps":["a","b","c"],"k":"val","y":293,"s":"0%"},{"ps":["a","b"],"k":"val","y":307,"s":"0%"},{"ps":["c"],"k":"val","y":307,"s":"13%"},
{"ps":["a","b","c"],"k":"strong","y":327,"s":"IEC 60270 status"},{"ps":["a","b","c"],"k":"green","y":344,"s":"conforming. Calibrated"},{"ps":["a","b","c"],"k":"green","y":356,"s":"yesterday at 14:48:41"},
{"ps":["a","b","c"],"k":"title","y":407,"s":"MPD540 1.1:"},{"ps":["a","b","c"],"k":"head","y":441,"s":"V̂/√2"},{"ps":["a","b","c"],"k":"head","y":498,"s":"V"},{"ps":["a","b","c"],"k":"sub","y":503,"s":"RMS"},{"ps":["a","b","c"],"k":"head","y":553,"s":"f"},{"ps":["a","b","c"],"k":"sub","y":558,"s":"V"},
{"ps":["a"],"k":"head","y":467,"s":"19.31 kV"},{"ps":["a"],"k":"head","y":526,"s":"18.75 kV"},{"ps":["a"],"k":"head","y":583,"s":"49.99 Hz"},
{"ps":["b"],"k":"head","y":467,"s":"21.17 kV"},{"ps":["b"],"k":"head","y":526,"s":"20.68 kV"},{"ps":["b"],"k":"head","y":583,"s":"49.98 Hz"},
{"ps":["c"],"k":"head","y":467,"s":"23.44 kV"},{"ps":["c"],"k":"head","y":526,"s":"24.41 kV"},{"ps":["c"],"k":"head","y":583,"s":"50.00 Hz"}
]
},
"hconcat":[
{
"data":{"name":"plot"},
"facet":{"row":{"field":"p","type":"nominal","header":null}},
"spacing":{"row":29.25},
"bounds":"flush",
"resolve":{"scale":{"y":"independent"}},
"spec":{
"width":1702,"height":740,
"layer":[
{"transform":[{"filter":"datum.s"}],"mark":{"type":"rect"},"encoding":{
"x":{"field":"t","type":"quantitative","scale":{"domain":[0,20],"nice":false}},"x2":{"field":"t2"},
"y":{"field":"q","type":"quantitative","scale":{"nice":false,"zero":true}},"y2":{"field":"q2"},
"color":{"field":"s","type":"ordinal","scale":{"domain":[1,2,3,4,5,6,7,8,9,10,11,12],"range":["#123f94","#0a86d0","#8ea8d6","#bde5ee","#8cc7a2","#8dbb37","#b6cf1e","#e6dd00","#ffdc2e","#fdc479","#f98a8a","#ec1510"]}}}},
{"transform":[{"filter":"datum.a"}],"mark":{"type":"area"},"encoding":{
"x":{"field":"t","type":"quantitative"},"y":{"field":"q","type":"quantitative","stack":null},"y2":{"field":"q2"},
"detail":{"field":"a"},
"color":{"field":"b","type":"ordinal"}}},
{"transform":[{"filter":"datum.c"}],"mark":{"type":"rect","width":4.2,"height":3.4},"encoding":{
"x":{"field":"t","type":"quantitative"},"y":{"field":"q","type":"quantitative"},
"color":{"field":"c","type":"ordinal"}}},
{"transform":[{"filter":"datum.base"}],"mark":{"type":"rule","stroke":"#5b5fa8","strokeWidth":1.5,"clip":true},"encoding":{"y":{"field":"q","type":"quantitative"}}},
{"transform":[{"filter":"datum.v"}],"mark":{"type":"rule","stroke":"#cfd0dc","strokeWidth":1.5,"opacity":0.9,"clip":true},"encoding":{"x":{"field":"t","type":"quantitative"}}},
{"transform":[{"filter":"datum.h"}],"mark":{"type":"rule","stroke":"#dcdbe0","strokeWidth":1.5,"opacity":0.9,"clip":true},"encoding":{"y":{"field":"q","type":"quantitative"}}},
{"transform":[{"filter":"datum.z"}],"mark":{"type":"line","stroke":"#85b82a","strokeWidth":1.5,"interpolate":"monotone","clip":true},"encoding":{"x":{"field":"t","type":"quantitative"},"y":{"field":"q","type":"quantitative"}}},
{"transform":[{"filter":"datum.m"}],"mark":{"type":"point","shape":"triangle-right","filled":true,"size":30,"color":"#85b82a","opacity":1,"clip":true},"encoding":{"x":{"field":"t","type":"quantitative"},"y":{"field":"q","type":"quantitative"}}},
{"transform":[{"filter":"datum.tr"}],"mark":{"type":"point","shape":"triangle-up","filled":true,"size":14,"color":"#111111","opacity":1,"clip":true},"encoding":{"x":{"field":"t","type":"quantitative"},"y":{"field":"q","type":"quantitative"}}},
{"transform":[{"filter":"datum.xl"}],"mark":{"type":"text","fontSize":11,"fill":"#3a3f55","baseline":"middle"},"encoding":{"x":{"field":"t","type":"quantitative"},"y":{"value":22},"text":{"field":"xl"}}},
{"transform":[{"filter":"datum.l"}],"mark":{"type":"text","fontSize":11,"align":"right","baseline":"middle","dy":-5,"fill":"#fffffa","stroke":"#fffffa","strokeWidth":5},"encoding":{"x":{"value":71},"y":{"field":"q","type":"quantitative"},"text":{"field":"l"}}},
{"transform":[{"filter":"datum.l"}],"mark":{"type":"text","fontSize":11,"align":"right","baseline":"middle","dy":-5,"fill":"#3a3f55"},"encoding":{"x":{"value":71},"y":{"field":"q","type":"quantitative"},"text":{"field":"l"}}},
{"transform":[{"filter":"datum.g"}],"mark":{"type":"rule","stroke":"#8ab92d","strokeWidth":1},"encoding":{"x":{"value":1694},"x2":{"value":1702},"y":{"field":"q","type":"quantitative"}}},
{"transform":[{"filter":"datum.g"}],"mark":{"type":"text","fontSize":10.5,"align":"right","baseline":"middle","dx":-1,"fill":"#fffffa","stroke":"#fffffa","strokeWidth":5},"encoding":{"x":{"value":1694},"y":{"field":"q","type":"quantitative"},"text":{"field":"g"}}},
{"transform":[{"filter":"datum.g"}],"mark":{"type":"text","fontSize":10.5,"align":"right","baseline":"middle","dx":-1,"fill":"#8ab92d"},"encoding":{"x":{"value":1694},"y":{"field":"q","type":"quantitative"},"text":{"field":"g"}}},
{"transform":[{"filter":"datum.o"}],"mark":{"type":"text","fontSize":11,"fontWeight":"bold","align":"right","baseline":"middle","fill":"#2a2d45"},"encoding":{"x":{"field":"t","type":"quantitative"},"y":{"field":"q","type":"quantitative"},"text":{"field":"o"}}},
{"transform":[{"filter":"datum.badge"}],"mark":{"type":"point","shape":"circle","filled":true,"size":962,"color":"#131a2b","opacity":1},"encoding":{"x":{"field":"t","type":"quantitative"},"y":{"field":"q","type":"quantitative"}}},
{"transform":[{"filter":"datum.badge"}],"mark":{"type":"text","fontSize":22,"fontWeight":"bold","font":"Open Sans","fill":"#ffffff","baseline":"middle"},"encoding":{"x":{"field":"t","type":"quantitative"},"y":{"field":"q","type":"quantitative"},"text":{"field":"badge"}}}
]
}
},
{
"data":{"name":"side"},
"transform":[{"flatten":["ps"],"as":["p"]}],
"facet":{"row":{"field":"p","type":"nominal","header":null}},
"spacing":{"row":29.25},
"bounds":"flush",
"spec":{
"width":282,"height":740,
"encoding":{"y":{"field":"y","type":"quantitative","scale":{"domain":[0,740],"reverse":true,"nice":false,"zero":false}}},
"layer":[
{"transform":[{"filter":"datum.k==='tab'"}],"mark":{"type":"rect","fill":"#d9d8d8"},"encoding":{"x":{"value":160},"x2":{"value":219},"y2":{"field":"y2"}}},
{"transform":[{"filter":"datum.b"}],"mark":{"type":"rect"},"encoding":{"x":{"value":7},"x2":{"value":61},"y2":{"field":"y2"},"color":{"field":"b","type":"ordinal"}}},
{"transform":[{"filter":"datum.b"}],"mark":{"type":"text","fontSize":12,"align":"left","baseline":"middle","fill":"#3f3f45"},"encoding":{"x":{"value":80},"y":{"field":"m","type":"quantitative","scale":{"domain":[0,740],"reverse":true,"nice":false,"zero":false}},"text":{"field":"s"}}},
{"transform":[{"filter":"datum.k==='box'"}],"mark":{"type":"rect","fill":null,"stroke":"#2a2a2a","strokeWidth":1.5},"encoding":{"x":{"value":160},"x2":{"value":280},"y2":{"field":"y2"}}},
{"transform":[{"filter":"datum.k==='ctr'"}],"mark":{"type":"text","fontSize":12,"align":"center","baseline":"middle","fill":"#3f3f45"},"encoding":{"x":{"field":"col","type":"quantitative","scale":{"domain":[0,282],"nice":false}},"text":{"field":"s"}}},
{"transform":[{"filter":"datum.k==='tabt'"}],"mark":{"type":"text","fontSize":10,"align":"center","baseline":"middle","fill":"#3f3f45"},"encoding":{"x":{"field":"col","type":"quantitative"},"text":{"field":"s"}}},
{"transform":[{"filter":"datum.k==='title'"}],"mark":{"type":"text","font":"DejaVu Serif","fontWeight":"bold","fontSize":13.2,"align":"left","baseline":"middle","fill":"#22222c"},"encoding":{"x":{"value":166},"text":{"field":"s"}}},
{"transform":[{"filter":"datum.k==='head'"}],"mark":{"type":"text","font":"DejaVu Serif","fontWeight":"bold","fontSize":15,"align":"left","baseline":"middle","fill":"#22222c"},"encoding":{"x":{"value":166},"text":{"field":"s"}}},
{"transform":[{"filter":"datum.k==='sub'"}],"mark":{"type":"text","fontSize":12.5,"align":"left","baseline":"middle","fill":"#3a3a42"},"encoding":{"x":{"value":184},"text":{"field":"s"}}},
{"transform":[{"filter":"datum.k==='note'"}],"mark":{"type":"text","fontSize":10.7,"align":"left","baseline":"middle","fill":"#3a3a42"},"encoding":{"x":{"value":166},"text":{"field":"s"}}},
{"transform":[{"filter":"datum.k==='strong'"}],"mark":{"type":"text","font":"DejaVu Serif","fontWeight":"bold","fontSize":10.5,"align":"left","baseline":"middle","fill":"#22222c"},"encoding":{"x":{"value":166},"text":{"field":"s"}}},
{"transform":[{"filter":"datum.k==='green'"}],"mark":{"type":"text","fontSize":9.7,"align":"left","baseline":"middle","fill":"#7fb03a"},"encoding":{"x":{"value":166},"text":{"field":"s"}}},
{"transform":[{"filter":"datum.k==='val'"}],"mark":{"type":"text","fontSize":10.5,"align":"left","baseline":"middle","fill":"#3a3a42"},"encoding":{"x":{"value":237},"text":{"field":"s"}}},
{"transform":[{"filter":"datum.k==='gval'"}],"mark":{"type":"text","fontSize":10.5,"align":"left","baseline":"middle","fill":"#7fb03a"},"encoding":{"x":{"value":237},"text":{"field":"s"}}}
]
}
}
],
"spacing":0
}
